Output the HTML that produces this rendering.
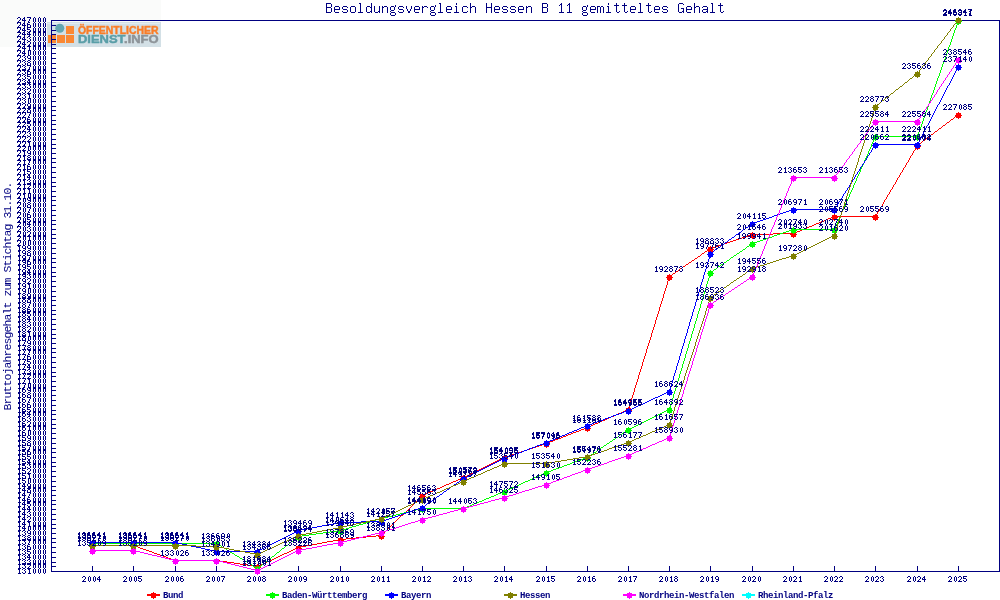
<!DOCTYPE html><html><head><meta charset="utf-8"><style>html,body{margin:0;padding:0;background:#fff;width:1000px;height:600px;overflow:hidden}svg{display:block;will-change:transform}</style></head><body><svg width="1000" height="600" viewBox="0 0 1000 600" shape-rendering="crispEdges">
<defs><path id="g0" d="M2 0h1v1h-1zM1 1h1v1h-1zM3 1h1v1h-1zM1 2h1v1h-1zM3 2h1v1h-1zM1 3h1v1h-1zM3 3h1v1h-1zM1 4h1v1h-1zM3 4h1v1h-1zM2 5h1v1h-1z"/><path id="g1" d="M2 0h1v1h-1zM1 1h2v1h-2zM2 2h1v1h-1zM2 3h1v1h-1zM2 4h1v1h-1zM1 5h3v1h-3z"/><path id="g2" d="M1 0h2v1h-2zM0 1h1v1h-1zM3 1h1v1h-1zM3 2h1v1h-1zM2 3h1v1h-1zM1 4h1v1h-1zM0 5h4v1h-4z"/><path id="g3" d="M1 0h2v1h-2zM0 1h1v1h-1zM3 1h1v1h-1zM2 2h1v1h-1zM3 3h1v1h-1zM0 4h1v1h-1zM3 4h1v1h-1zM1 5h2v1h-2z"/><path id="g4" d="M2 0h1v1h-1zM1 1h2v1h-2zM0 2h1v1h-1zM2 2h1v1h-1zM0 3h4v1h-4zM2 4h1v1h-1zM2 5h1v1h-1z"/><path id="g5" d="M0 0h4v1h-4zM0 1h1v1h-1zM0 2h3v1h-3zM3 3h1v1h-1zM0 4h1v1h-1zM3 4h1v1h-1zM1 5h2v1h-2z"/><path id="g6" d="M1 0h2v1h-2zM0 1h1v1h-1zM0 2h3v1h-3zM0 3h1v1h-1zM3 3h1v1h-1zM0 4h1v1h-1zM3 4h1v1h-1zM1 5h2v1h-2z"/><path id="g7" d="M0 0h4v1h-4zM3 1h1v1h-1zM2 2h1v1h-1zM2 3h1v1h-1zM1 4h1v1h-1zM1 5h1v1h-1z"/><path id="g8" d="M1 0h2v1h-2zM0 1h1v1h-1zM3 1h1v1h-1zM1 2h2v1h-2zM0 3h1v1h-1zM3 3h1v1h-1zM0 4h1v1h-1zM3 4h1v1h-1zM1 5h2v1h-2z"/><path id="g9" d="M1 0h2v1h-2zM0 1h1v1h-1zM3 1h1v1h-1zM0 2h1v1h-1zM3 2h1v1h-1zM1 3h3v1h-3zM3 4h1v1h-1zM1 5h2v1h-2z"/><path id="tB" d="M1 0h5v1h-5zM1 1h1v1h-1zM6 1h1v1h-1zM1 2h1v1h-1zM6 2h1v1h-1zM1 3h1v1h-1zM6 3h1v1h-1zM1 4h5v1h-5zM1 5h1v1h-1zM6 5h1v1h-1zM1 6h1v1h-1zM6 6h1v1h-1zM1 7h1v1h-1zM6 7h1v1h-1zM1 8h1v1h-1zM6 8h1v1h-1zM1 9h5v1h-5z"/><path id="te" d="M2 3h4v1h-4zM1 4h1v1h-1zM6 4h1v1h-1zM1 5h1v1h-1zM6 5h1v1h-1zM1 6h6v1h-6zM1 7h1v1h-1zM1 8h1v1h-1zM2 9h4v1h-4z"/><path id="ts" d="M2 3h4v1h-4zM1 4h1v1h-1zM6 4h1v1h-1zM1 5h1v1h-1zM2 6h4v1h-4zM6 7h1v1h-1zM1 8h1v1h-1zM6 8h1v1h-1zM2 9h4v1h-4z"/><path id="to" d="M2 3h4v1h-4zM1 4h1v1h-1zM6 4h1v1h-1zM1 5h1v1h-1zM6 5h1v1h-1zM1 6h1v1h-1zM6 6h1v1h-1zM1 7h1v1h-1zM6 7h1v1h-1zM1 8h1v1h-1zM6 8h1v1h-1zM2 9h4v1h-4z"/><path id="tl" d="M2 0h2v1h-2zM3 1h1v1h-1zM3 2h1v1h-1zM3 3h1v1h-1zM3 4h1v1h-1zM3 5h1v1h-1zM3 6h1v1h-1zM3 7h1v1h-1zM3 8h1v1h-1zM1 9h5v1h-5z"/><path id="td" d="M6 0h1v1h-1zM6 1h1v1h-1zM6 2h1v1h-1zM2 3h3v1h-3zM6 3h1v1h-1zM1 4h1v1h-1zM5 4h2v1h-2zM1 5h1v1h-1zM6 5h1v1h-1zM1 6h1v1h-1zM6 6h1v1h-1zM1 7h1v1h-1zM6 7h1v1h-1zM1 8h1v1h-1zM5 8h2v1h-2zM2 9h3v1h-3zM6 9h1v1h-1z"/><path id="tu" d="M1 3h1v1h-1zM6 3h1v1h-1zM1 4h1v1h-1zM6 4h1v1h-1zM1 5h1v1h-1zM6 5h1v1h-1zM1 6h1v1h-1zM6 6h1v1h-1zM1 7h1v1h-1zM6 7h1v1h-1zM1 8h1v1h-1zM5 8h2v1h-2zM2 9h3v1h-3zM6 9h1v1h-1z"/><path id="tn" d="M1 3h1v1h-1zM3 3h3v1h-3zM1 4h2v1h-2zM6 4h1v1h-1zM1 5h1v1h-1zM6 5h1v1h-1zM1 6h1v1h-1zM6 6h1v1h-1zM1 7h1v1h-1zM6 7h1v1h-1zM1 8h1v1h-1zM6 8h1v1h-1zM1 9h1v1h-1zM6 9h1v1h-1z"/><path id="tg" d="M6 2h1v1h-1zM2 3h3v1h-3zM6 3h1v1h-1zM1 4h1v1h-1zM5 4h1v1h-1zM1 5h1v1h-1zM5 5h1v1h-1zM1 6h1v1h-1zM5 6h1v1h-1zM2 7h3v1h-3zM1 8h1v1h-1zM2 9h4v1h-4zM1 10h1v1h-1zM6 10h1v1h-1zM1 11h1v1h-1zM6 11h1v1h-1zM2 12h4v1h-4z"/><path id="tv" d="M1 3h1v1h-1zM6 3h1v1h-1zM1 4h1v1h-1zM6 4h1v1h-1zM1 5h1v1h-1zM6 5h1v1h-1zM2 6h1v1h-1zM5 6h1v1h-1zM2 7h1v1h-1zM5 7h1v1h-1zM3 8h2v1h-2zM3 9h2v1h-2z"/><path id="tr" d="M1 3h1v1h-1zM3 3h3v1h-3zM1 4h2v1h-2zM6 4h1v1h-1zM1 5h1v1h-1zM1 6h1v1h-1zM1 7h1v1h-1zM1 8h1v1h-1zM1 9h1v1h-1z"/><path id="ti" d="M3 0h1v1h-1zM3 1h1v1h-1zM2 3h2v1h-2zM3 4h1v1h-1zM3 5h1v1h-1zM3 6h1v1h-1zM3 7h1v1h-1zM3 8h1v1h-1zM1 9h5v1h-5z"/><path id="tc" d="M2 3h4v1h-4zM1 4h1v1h-1zM6 4h1v1h-1zM1 5h1v1h-1zM1 6h1v1h-1zM1 7h1v1h-1zM1 8h1v1h-1zM6 8h1v1h-1zM2 9h4v1h-4z"/><path id="th" d="M1 0h1v1h-1zM1 1h1v1h-1zM1 2h1v1h-1zM1 3h1v1h-1zM3 3h3v1h-3zM1 4h2v1h-2zM6 4h1v1h-1zM1 5h1v1h-1zM6 5h1v1h-1zM1 6h1v1h-1zM6 6h1v1h-1zM1 7h1v1h-1zM6 7h1v1h-1zM1 8h1v1h-1zM6 8h1v1h-1zM1 9h1v1h-1zM6 9h1v1h-1z"/><path id="tH" d="M1 0h1v1h-1zM6 0h1v1h-1zM1 1h1v1h-1zM6 1h1v1h-1zM1 2h1v1h-1zM6 2h1v1h-1zM1 3h1v1h-1zM6 3h1v1h-1zM1 4h6v1h-6zM1 5h1v1h-1zM6 5h1v1h-1zM1 6h1v1h-1zM6 6h1v1h-1zM1 7h1v1h-1zM6 7h1v1h-1zM1 8h1v1h-1zM6 8h1v1h-1zM1 9h1v1h-1zM6 9h1v1h-1z"/><path id="t1" d="M4 0h1v1h-1zM3 1h2v1h-2zM2 2h1v1h-1zM4 2h1v1h-1zM4 3h1v1h-1zM4 4h1v1h-1zM4 5h1v1h-1zM4 6h1v1h-1zM4 7h1v1h-1zM4 8h1v1h-1zM2 9h5v1h-5z"/><path id="tm" d="M0 3h3v1h-3zM4 3h2v1h-2zM0 4h1v1h-1zM3 4h1v1h-1zM6 4h1v1h-1zM0 5h1v1h-1zM3 5h1v1h-1zM6 5h1v1h-1zM0 6h1v1h-1zM3 6h1v1h-1zM6 6h1v1h-1zM0 7h1v1h-1zM3 7h1v1h-1zM6 7h1v1h-1zM0 8h1v1h-1zM3 8h1v1h-1zM6 8h1v1h-1zM0 9h1v1h-1zM3 9h1v1h-1zM6 9h1v1h-1z"/><path id="tt" d="M3 0h1v1h-1zM3 1h1v1h-1zM1 2h5v1h-5zM3 3h1v1h-1zM3 4h1v1h-1zM3 5h1v1h-1zM3 6h1v1h-1zM3 7h1v1h-1zM3 8h1v1h-1zM6 8h1v1h-1zM4 9h2v1h-2z"/><path id="tG" d="M2 0h4v1h-4zM1 1h1v1h-1zM6 1h1v1h-1zM1 2h1v1h-1zM1 3h1v1h-1zM1 4h1v1h-1zM1 5h1v1h-1zM4 5h3v1h-3zM1 6h1v1h-1zM6 6h1v1h-1zM1 7h1v1h-1zM6 7h1v1h-1zM1 8h1v1h-1zM5 8h2v1h-2zM2 9h3v1h-3zM6 9h1v1h-1z"/><path id="ta" d="M2 3h4v1h-4zM1 4h1v1h-1zM6 4h1v1h-1zM6 5h1v1h-1zM2 6h5v1h-5zM1 7h1v1h-1zM6 7h1v1h-1zM1 8h1v1h-1zM5 8h2v1h-2zM2 9h3v1h-3zM6 9h1v1h-1z"/></defs>
<rect x="0" y="0" width="1000" height="600" fill="#ffffff"/>
<rect x="0" y="0" width="161" height="47" fill="#fafbfa"/>
<g id="logo">
<rect x="46.5" y="22" width="114.5" height="25" fill="#d3e0e6"/>
<rect x="47" y="23" width="113" height="1" fill="#e2ecef"/>
<rect x="48" y="35" width="8" height="8" fill="#fa8834"/>
<rect x="57" y="35" width="8" height="8" fill="#fa8834"/>
<rect x="66" y="35" width="8" height="8" fill="#fa8834"/>
<rect x="66" y="26" width="8" height="8" fill="#fa8834"/>
<circle cx="59.8" cy="28.2" r="4.5" fill="#62a6b1" shape-rendering="auto"/>
<text x="78" y="33.6" font-family="Liberation Sans" font-weight="bold" font-size="10.6" fill="#fa7d27" stroke="#fa7d27" stroke-width="0.45" textLength="80.6" lengthAdjust="spacingAndGlyphs" shape-rendering="auto">ÖFFENTLICHER</text>
<text x="78" y="42.6" font-family="Liberation Sans" font-weight="bold" font-size="10.6" textLength="80.6" lengthAdjust="spacingAndGlyphs"><tspan fill="#5a9ea8" stroke="#5a9ea8" stroke-width="0.45">DIENST</tspan><tspan fill="#8d9398" stroke="#8d9398" stroke-width="0.45">.INFO</tspan></text>
</g>
<g fill="#000080"><use href="#tB" xlink:href="#tB" x="325" y="3"/><use href="#te" xlink:href="#te" x="333" y="3"/><use href="#ts" xlink:href="#ts" x="341" y="3"/><use href="#to" xlink:href="#to" x="349" y="3"/><use href="#tl" xlink:href="#tl" x="357" y="3"/><use href="#td" xlink:href="#td" x="365" y="3"/><use href="#tu" xlink:href="#tu" x="373" y="3"/><use href="#tn" xlink:href="#tn" x="381" y="3"/><use href="#tg" xlink:href="#tg" x="389" y="3"/><use href="#ts" xlink:href="#ts" x="397" y="3"/><use href="#tv" xlink:href="#tv" x="405" y="3"/><use href="#te" xlink:href="#te" x="413" y="3"/><use href="#tr" xlink:href="#tr" x="421" y="3"/><use href="#tg" xlink:href="#tg" x="429" y="3"/><use href="#tl" xlink:href="#tl" x="437" y="3"/><use href="#te" xlink:href="#te" x="445" y="3"/><use href="#ti" xlink:href="#ti" x="453" y="3"/><use href="#tc" xlink:href="#tc" x="461" y="3"/><use href="#th" xlink:href="#th" x="469" y="3"/><use href="#tH" xlink:href="#tH" x="485" y="3"/><use href="#te" xlink:href="#te" x="493" y="3"/><use href="#ts" xlink:href="#ts" x="501" y="3"/><use href="#ts" xlink:href="#ts" x="509" y="3"/><use href="#te" xlink:href="#te" x="517" y="3"/><use href="#tn" xlink:href="#tn" x="525" y="3"/><use href="#tB" xlink:href="#tB" x="541" y="3"/><use href="#t1" xlink:href="#t1" x="557" y="3"/><use href="#t1" xlink:href="#t1" x="565" y="3"/><use href="#tg" xlink:href="#tg" x="581" y="3"/><use href="#te" xlink:href="#te" x="589" y="3"/><use href="#tm" xlink:href="#tm" x="597" y="3"/><use href="#ti" xlink:href="#ti" x="605" y="3"/><use href="#tt" xlink:href="#tt" x="613" y="3"/><use href="#tt" xlink:href="#tt" x="621" y="3"/><use href="#te" xlink:href="#te" x="629" y="3"/><use href="#tl" xlink:href="#tl" x="637" y="3"/><use href="#tt" xlink:href="#tt" x="645" y="3"/><use href="#te" xlink:href="#te" x="653" y="3"/><use href="#ts" xlink:href="#ts" x="661" y="3"/><use href="#tG" xlink:href="#tG" x="677" y="3"/><use href="#te" xlink:href="#te" x="685" y="3"/><use href="#th" xlink:href="#th" x="693" y="3"/><use href="#ta" xlink:href="#ta" x="701" y="3"/><use href="#tl" xlink:href="#tl" x="709" y="3"/><use href="#tt" xlink:href="#tt" x="717" y="3"/></g>
<path d="M51 20h949v1h-949zM999 20h1v552h-1zM51 20h1v552h-1zM51 571h949v1h-949z" fill="#000080"/>
<path d="M52 571h4v1h-4zM52 566h4v1h-4zM52 562h4v1h-4zM52 557h4v1h-4zM52 552h4v1h-4zM52 547h4v1h-4zM52 542h4v1h-4zM52 538h4v1h-4zM52 533h4v1h-4zM52 528h4v1h-4zM52 524h4v1h-4zM52 519h4v1h-4zM52 514h4v1h-4zM52 509h4v1h-4zM52 504h4v1h-4zM52 500h4v1h-4zM52 495h4v1h-4zM52 490h4v1h-4zM52 486h4v1h-4zM52 481h4v1h-4zM52 476h4v1h-4zM52 471h4v1h-4zM52 466h4v1h-4zM52 462h4v1h-4zM52 457h4v1h-4zM52 452h4v1h-4zM52 448h4v1h-4zM52 443h4v1h-4zM52 438h4v1h-4zM52 433h4v1h-4zM52 428h4v1h-4zM52 424h4v1h-4zM52 419h4v1h-4zM52 414h4v1h-4zM52 410h4v1h-4zM52 405h4v1h-4zM52 400h4v1h-4zM52 395h4v1h-4zM52 390h4v1h-4zM52 386h4v1h-4zM52 381h4v1h-4zM52 376h4v1h-4zM52 372h4v1h-4zM52 367h4v1h-4zM52 362h4v1h-4zM52 357h4v1h-4zM52 352h4v1h-4zM52 348h4v1h-4zM52 343h4v1h-4zM52 338h4v1h-4zM52 334h4v1h-4zM52 329h4v1h-4zM52 324h4v1h-4zM52 319h4v1h-4zM52 314h4v1h-4zM52 310h4v1h-4zM52 305h4v1h-4zM52 300h4v1h-4zM52 296h4v1h-4zM52 291h4v1h-4zM52 286h4v1h-4zM52 281h4v1h-4zM52 276h4v1h-4zM52 272h4v1h-4zM52 267h4v1h-4zM52 262h4v1h-4zM52 258h4v1h-4zM52 253h4v1h-4zM52 248h4v1h-4zM52 243h4v1h-4zM52 238h4v1h-4zM52 234h4v1h-4zM52 229h4v1h-4zM52 224h4v1h-4zM52 220h4v1h-4zM52 215h4v1h-4zM52 210h4v1h-4zM52 205h4v1h-4zM52 200h4v1h-4zM52 196h4v1h-4zM52 191h4v1h-4zM52 186h4v1h-4zM52 182h4v1h-4zM52 177h4v1h-4zM52 172h4v1h-4zM52 167h4v1h-4zM52 162h4v1h-4zM52 158h4v1h-4zM52 153h4v1h-4zM52 148h4v1h-4zM52 144h4v1h-4zM52 139h4v1h-4zM52 134h4v1h-4zM52 129h4v1h-4zM52 124h4v1h-4zM52 120h4v1h-4zM52 115h4v1h-4zM52 110h4v1h-4zM52 106h4v1h-4zM52 101h4v1h-4zM52 96h4v1h-4zM52 91h4v1h-4zM52 86h4v1h-4zM52 82h4v1h-4zM52 77h4v1h-4zM52 72h4v1h-4zM52 68h4v1h-4zM52 63h4v1h-4zM52 58h4v1h-4zM52 53h4v1h-4zM52 48h4v1h-4zM52 44h4v1h-4zM52 39h4v1h-4zM52 34h4v1h-4zM52 30h4v1h-4zM52 25h4v1h-4zM52 20h4v1h-4z" fill="#000080"/>
<g fill="#000080"><use href="#g1" xlink:href="#g1" x="17" y="568"/><use href="#g3" xlink:href="#g3" x="22" y="568"/><use href="#g1" xlink:href="#g1" x="27" y="568"/><use href="#g0" xlink:href="#g0" x="32" y="568"/><use href="#g0" xlink:href="#g0" x="37" y="568"/><use href="#g0" xlink:href="#g0" x="42" y="568"/><use href="#g1" xlink:href="#g1" x="17" y="563"/><use href="#g3" xlink:href="#g3" x="22" y="563"/><use href="#g2" xlink:href="#g2" x="27" y="563"/><use href="#g0" xlink:href="#g0" x="32" y="563"/><use href="#g0" xlink:href="#g0" x="37" y="563"/><use href="#g0" xlink:href="#g0" x="42" y="563"/><use href="#g1" xlink:href="#g1" x="17" y="559"/><use href="#g3" xlink:href="#g3" x="22" y="559"/><use href="#g3" xlink:href="#g3" x="27" y="559"/><use href="#g0" xlink:href="#g0" x="32" y="559"/><use href="#g0" xlink:href="#g0" x="37" y="559"/><use href="#g0" xlink:href="#g0" x="42" y="559"/><use href="#g1" xlink:href="#g1" x="17" y="554"/><use href="#g3" xlink:href="#g3" x="22" y="554"/><use href="#g4" xlink:href="#g4" x="27" y="554"/><use href="#g0" xlink:href="#g0" x="32" y="554"/><use href="#g0" xlink:href="#g0" x="37" y="554"/><use href="#g0" xlink:href="#g0" x="42" y="554"/><use href="#g1" xlink:href="#g1" x="17" y="549"/><use href="#g3" xlink:href="#g3" x="22" y="549"/><use href="#g5" xlink:href="#g5" x="27" y="549"/><use href="#g0" xlink:href="#g0" x="32" y="549"/><use href="#g0" xlink:href="#g0" x="37" y="549"/><use href="#g0" xlink:href="#g0" x="42" y="549"/><use href="#g1" xlink:href="#g1" x="17" y="544"/><use href="#g3" xlink:href="#g3" x="22" y="544"/><use href="#g6" xlink:href="#g6" x="27" y="544"/><use href="#g0" xlink:href="#g0" x="32" y="544"/><use href="#g0" xlink:href="#g0" x="37" y="544"/><use href="#g0" xlink:href="#g0" x="42" y="544"/><use href="#g1" xlink:href="#g1" x="17" y="539"/><use href="#g3" xlink:href="#g3" x="22" y="539"/><use href="#g7" xlink:href="#g7" x="27" y="539"/><use href="#g0" xlink:href="#g0" x="32" y="539"/><use href="#g0" xlink:href="#g0" x="37" y="539"/><use href="#g0" xlink:href="#g0" x="42" y="539"/><use href="#g1" xlink:href="#g1" x="17" y="535"/><use href="#g3" xlink:href="#g3" x="22" y="535"/><use href="#g8" xlink:href="#g8" x="27" y="535"/><use href="#g0" xlink:href="#g0" x="32" y="535"/><use href="#g0" xlink:href="#g0" x="37" y="535"/><use href="#g0" xlink:href="#g0" x="42" y="535"/><use href="#g1" xlink:href="#g1" x="17" y="530"/><use href="#g3" xlink:href="#g3" x="22" y="530"/><use href="#g9" xlink:href="#g9" x="27" y="530"/><use href="#g0" xlink:href="#g0" x="32" y="530"/><use href="#g0" xlink:href="#g0" x="37" y="530"/><use href="#g0" xlink:href="#g0" x="42" y="530"/><use href="#g1" xlink:href="#g1" x="17" y="525"/><use href="#g4" xlink:href="#g4" x="22" y="525"/><use href="#g0" xlink:href="#g0" x="27" y="525"/><use href="#g0" xlink:href="#g0" x="32" y="525"/><use href="#g0" xlink:href="#g0" x="37" y="525"/><use href="#g0" xlink:href="#g0" x="42" y="525"/><use href="#g1" xlink:href="#g1" x="17" y="521"/><use href="#g4" xlink:href="#g4" x="22" y="521"/><use href="#g1" xlink:href="#g1" x="27" y="521"/><use href="#g0" xlink:href="#g0" x="32" y="521"/><use href="#g0" xlink:href="#g0" x="37" y="521"/><use href="#g0" xlink:href="#g0" x="42" y="521"/><use href="#g1" xlink:href="#g1" x="17" y="516"/><use href="#g4" xlink:href="#g4" x="22" y="516"/><use href="#g2" xlink:href="#g2" x="27" y="516"/><use href="#g0" xlink:href="#g0" x="32" y="516"/><use href="#g0" xlink:href="#g0" x="37" y="516"/><use href="#g0" xlink:href="#g0" x="42" y="516"/><use href="#g1" xlink:href="#g1" x="17" y="511"/><use href="#g4" xlink:href="#g4" x="22" y="511"/><use href="#g3" xlink:href="#g3" x="27" y="511"/><use href="#g0" xlink:href="#g0" x="32" y="511"/><use href="#g0" xlink:href="#g0" x="37" y="511"/><use href="#g0" xlink:href="#g0" x="42" y="511"/><use href="#g1" xlink:href="#g1" x="17" y="506"/><use href="#g4" xlink:href="#g4" x="22" y="506"/><use href="#g4" xlink:href="#g4" x="27" y="506"/><use href="#g0" xlink:href="#g0" x="32" y="506"/><use href="#g0" xlink:href="#g0" x="37" y="506"/><use href="#g0" xlink:href="#g0" x="42" y="506"/><use href="#g1" xlink:href="#g1" x="17" y="501"/><use href="#g4" xlink:href="#g4" x="22" y="501"/><use href="#g5" xlink:href="#g5" x="27" y="501"/><use href="#g0" xlink:href="#g0" x="32" y="501"/><use href="#g0" xlink:href="#g0" x="37" y="501"/><use href="#g0" xlink:href="#g0" x="42" y="501"/><use href="#g1" xlink:href="#g1" x="17" y="497"/><use href="#g4" xlink:href="#g4" x="22" y="497"/><use href="#g6" xlink:href="#g6" x="27" y="497"/><use href="#g0" xlink:href="#g0" x="32" y="497"/><use href="#g0" xlink:href="#g0" x="37" y="497"/><use href="#g0" xlink:href="#g0" x="42" y="497"/><use href="#g1" xlink:href="#g1" x="17" y="492"/><use href="#g4" xlink:href="#g4" x="22" y="492"/><use href="#g7" xlink:href="#g7" x="27" y="492"/><use href="#g0" xlink:href="#g0" x="32" y="492"/><use href="#g0" xlink:href="#g0" x="37" y="492"/><use href="#g0" xlink:href="#g0" x="42" y="492"/><use href="#g1" xlink:href="#g1" x="17" y="487"/><use href="#g4" xlink:href="#g4" x="22" y="487"/><use href="#g8" xlink:href="#g8" x="27" y="487"/><use href="#g0" xlink:href="#g0" x="32" y="487"/><use href="#g0" xlink:href="#g0" x="37" y="487"/><use href="#g0" xlink:href="#g0" x="42" y="487"/><use href="#g1" xlink:href="#g1" x="17" y="483"/><use href="#g4" xlink:href="#g4" x="22" y="483"/><use href="#g9" xlink:href="#g9" x="27" y="483"/><use href="#g0" xlink:href="#g0" x="32" y="483"/><use href="#g0" xlink:href="#g0" x="37" y="483"/><use href="#g0" xlink:href="#g0" x="42" y="483"/><use href="#g1" xlink:href="#g1" x="17" y="478"/><use href="#g5" xlink:href="#g5" x="22" y="478"/><use href="#g0" xlink:href="#g0" x="27" y="478"/><use href="#g0" xlink:href="#g0" x="32" y="478"/><use href="#g0" xlink:href="#g0" x="37" y="478"/><use href="#g0" xlink:href="#g0" x="42" y="478"/><use href="#g1" xlink:href="#g1" x="17" y="473"/><use href="#g5" xlink:href="#g5" x="22" y="473"/><use href="#g1" xlink:href="#g1" x="27" y="473"/><use href="#g0" xlink:href="#g0" x="32" y="473"/><use href="#g0" xlink:href="#g0" x="37" y="473"/><use href="#g0" xlink:href="#g0" x="42" y="473"/><use href="#g1" xlink:href="#g1" x="17" y="468"/><use href="#g5" xlink:href="#g5" x="22" y="468"/><use href="#g2" xlink:href="#g2" x="27" y="468"/><use href="#g0" xlink:href="#g0" x="32" y="468"/><use href="#g0" xlink:href="#g0" x="37" y="468"/><use href="#g0" xlink:href="#g0" x="42" y="468"/><use href="#g1" xlink:href="#g1" x="17" y="463"/><use href="#g5" xlink:href="#g5" x="22" y="463"/><use href="#g3" xlink:href="#g3" x="27" y="463"/><use href="#g0" xlink:href="#g0" x="32" y="463"/><use href="#g0" xlink:href="#g0" x="37" y="463"/><use href="#g0" xlink:href="#g0" x="42" y="463"/><use href="#g1" xlink:href="#g1" x="17" y="459"/><use href="#g5" xlink:href="#g5" x="22" y="459"/><use href="#g4" xlink:href="#g4" x="27" y="459"/><use href="#g0" xlink:href="#g0" x="32" y="459"/><use href="#g0" xlink:href="#g0" x="37" y="459"/><use href="#g0" xlink:href="#g0" x="42" y="459"/><use href="#g1" xlink:href="#g1" x="17" y="454"/><use href="#g5" xlink:href="#g5" x="22" y="454"/><use href="#g5" xlink:href="#g5" x="27" y="454"/><use href="#g0" xlink:href="#g0" x="32" y="454"/><use href="#g0" xlink:href="#g0" x="37" y="454"/><use href="#g0" xlink:href="#g0" x="42" y="454"/><use href="#g1" xlink:href="#g1" x="17" y="449"/><use href="#g5" xlink:href="#g5" x="22" y="449"/><use href="#g6" xlink:href="#g6" x="27" y="449"/><use href="#g0" xlink:href="#g0" x="32" y="449"/><use href="#g0" xlink:href="#g0" x="37" y="449"/><use href="#g0" xlink:href="#g0" x="42" y="449"/><use href="#g1" xlink:href="#g1" x="17" y="445"/><use href="#g5" xlink:href="#g5" x="22" y="445"/><use href="#g7" xlink:href="#g7" x="27" y="445"/><use href="#g0" xlink:href="#g0" x="32" y="445"/><use href="#g0" xlink:href="#g0" x="37" y="445"/><use href="#g0" xlink:href="#g0" x="42" y="445"/><use href="#g1" xlink:href="#g1" x="17" y="440"/><use href="#g5" xlink:href="#g5" x="22" y="440"/><use href="#g8" xlink:href="#g8" x="27" y="440"/><use href="#g0" xlink:href="#g0" x="32" y="440"/><use href="#g0" xlink:href="#g0" x="37" y="440"/><use href="#g0" xlink:href="#g0" x="42" y="440"/><use href="#g1" xlink:href="#g1" x="17" y="435"/><use href="#g5" xlink:href="#g5" x="22" y="435"/><use href="#g9" xlink:href="#g9" x="27" y="435"/><use href="#g0" xlink:href="#g0" x="32" y="435"/><use href="#g0" xlink:href="#g0" x="37" y="435"/><use href="#g0" xlink:href="#g0" x="42" y="435"/><use href="#g1" xlink:href="#g1" x="17" y="430"/><use href="#g6" xlink:href="#g6" x="22" y="430"/><use href="#g0" xlink:href="#g0" x="27" y="430"/><use href="#g0" xlink:href="#g0" x="32" y="430"/><use href="#g0" xlink:href="#g0" x="37" y="430"/><use href="#g0" xlink:href="#g0" x="42" y="430"/><use href="#g1" xlink:href="#g1" x="17" y="425"/><use href="#g6" xlink:href="#g6" x="22" y="425"/><use href="#g1" xlink:href="#g1" x="27" y="425"/><use href="#g0" xlink:href="#g0" x="32" y="425"/><use href="#g0" xlink:href="#g0" x="37" y="425"/><use href="#g0" xlink:href="#g0" x="42" y="425"/><use href="#g1" xlink:href="#g1" x="17" y="421"/><use href="#g6" xlink:href="#g6" x="22" y="421"/><use href="#g2" xlink:href="#g2" x="27" y="421"/><use href="#g0" xlink:href="#g0" x="32" y="421"/><use href="#g0" xlink:href="#g0" x="37" y="421"/><use href="#g0" xlink:href="#g0" x="42" y="421"/><use href="#g1" xlink:href="#g1" x="17" y="416"/><use href="#g6" xlink:href="#g6" x="22" y="416"/><use href="#g3" xlink:href="#g3" x="27" y="416"/><use href="#g0" xlink:href="#g0" x="32" y="416"/><use href="#g0" xlink:href="#g0" x="37" y="416"/><use href="#g0" xlink:href="#g0" x="42" y="416"/><use href="#g1" xlink:href="#g1" x="17" y="411"/><use href="#g6" xlink:href="#g6" x="22" y="411"/><use href="#g4" xlink:href="#g4" x="27" y="411"/><use href="#g0" xlink:href="#g0" x="32" y="411"/><use href="#g0" xlink:href="#g0" x="37" y="411"/><use href="#g0" xlink:href="#g0" x="42" y="411"/><use href="#g1" xlink:href="#g1" x="17" y="407"/><use href="#g6" xlink:href="#g6" x="22" y="407"/><use href="#g5" xlink:href="#g5" x="27" y="407"/><use href="#g0" xlink:href="#g0" x="32" y="407"/><use href="#g0" xlink:href="#g0" x="37" y="407"/><use href="#g0" xlink:href="#g0" x="42" y="407"/><use href="#g1" xlink:href="#g1" x="17" y="402"/><use href="#g6" xlink:href="#g6" x="22" y="402"/><use href="#g6" xlink:href="#g6" x="27" y="402"/><use href="#g0" xlink:href="#g0" x="32" y="402"/><use href="#g0" xlink:href="#g0" x="37" y="402"/><use href="#g0" xlink:href="#g0" x="42" y="402"/><use href="#g1" xlink:href="#g1" x="17" y="397"/><use href="#g6" xlink:href="#g6" x="22" y="397"/><use href="#g7" xlink:href="#g7" x="27" y="397"/><use href="#g0" xlink:href="#g0" x="32" y="397"/><use href="#g0" xlink:href="#g0" x="37" y="397"/><use href="#g0" xlink:href="#g0" x="42" y="397"/><use href="#g1" xlink:href="#g1" x="17" y="392"/><use href="#g6" xlink:href="#g6" x="22" y="392"/><use href="#g8" xlink:href="#g8" x="27" y="392"/><use href="#g0" xlink:href="#g0" x="32" y="392"/><use href="#g0" xlink:href="#g0" x="37" y="392"/><use href="#g0" xlink:href="#g0" x="42" y="392"/><use href="#g1" xlink:href="#g1" x="17" y="387"/><use href="#g6" xlink:href="#g6" x="22" y="387"/><use href="#g9" xlink:href="#g9" x="27" y="387"/><use href="#g0" xlink:href="#g0" x="32" y="387"/><use href="#g0" xlink:href="#g0" x="37" y="387"/><use href="#g0" xlink:href="#g0" x="42" y="387"/><use href="#g1" xlink:href="#g1" x="17" y="383"/><use href="#g7" xlink:href="#g7" x="22" y="383"/><use href="#g0" xlink:href="#g0" x="27" y="383"/><use href="#g0" xlink:href="#g0" x="32" y="383"/><use href="#g0" xlink:href="#g0" x="37" y="383"/><use href="#g0" xlink:href="#g0" x="42" y="383"/><use href="#g1" xlink:href="#g1" x="17" y="378"/><use href="#g7" xlink:href="#g7" x="22" y="378"/><use href="#g1" xlink:href="#g1" x="27" y="378"/><use href="#g0" xlink:href="#g0" x="32" y="378"/><use href="#g0" xlink:href="#g0" x="37" y="378"/><use href="#g0" xlink:href="#g0" x="42" y="378"/><use href="#g1" xlink:href="#g1" x="17" y="373"/><use href="#g7" xlink:href="#g7" x="22" y="373"/><use href="#g2" xlink:href="#g2" x="27" y="373"/><use href="#g0" xlink:href="#g0" x="32" y="373"/><use href="#g0" xlink:href="#g0" x="37" y="373"/><use href="#g0" xlink:href="#g0" x="42" y="373"/><use href="#g1" xlink:href="#g1" x="17" y="369"/><use href="#g7" xlink:href="#g7" x="22" y="369"/><use href="#g3" xlink:href="#g3" x="27" y="369"/><use href="#g0" xlink:href="#g0" x="32" y="369"/><use href="#g0" xlink:href="#g0" x="37" y="369"/><use href="#g0" xlink:href="#g0" x="42" y="369"/><use href="#g1" xlink:href="#g1" x="17" y="364"/><use href="#g7" xlink:href="#g7" x="22" y="364"/><use href="#g4" xlink:href="#g4" x="27" y="364"/><use href="#g0" xlink:href="#g0" x="32" y="364"/><use href="#g0" xlink:href="#g0" x="37" y="364"/><use href="#g0" xlink:href="#g0" x="42" y="364"/><use href="#g1" xlink:href="#g1" x="17" y="359"/><use href="#g7" xlink:href="#g7" x="22" y="359"/><use href="#g5" xlink:href="#g5" x="27" y="359"/><use href="#g0" xlink:href="#g0" x="32" y="359"/><use href="#g0" xlink:href="#g0" x="37" y="359"/><use href="#g0" xlink:href="#g0" x="42" y="359"/><use href="#g1" xlink:href="#g1" x="17" y="354"/><use href="#g7" xlink:href="#g7" x="22" y="354"/><use href="#g6" xlink:href="#g6" x="27" y="354"/><use href="#g0" xlink:href="#g0" x="32" y="354"/><use href="#g0" xlink:href="#g0" x="37" y="354"/><use href="#g0" xlink:href="#g0" x="42" y="354"/><use href="#g1" xlink:href="#g1" x="17" y="349"/><use href="#g7" xlink:href="#g7" x="22" y="349"/><use href="#g7" xlink:href="#g7" x="27" y="349"/><use href="#g0" xlink:href="#g0" x="32" y="349"/><use href="#g0" xlink:href="#g0" x="37" y="349"/><use href="#g0" xlink:href="#g0" x="42" y="349"/><use href="#g1" xlink:href="#g1" x="17" y="345"/><use href="#g7" xlink:href="#g7" x="22" y="345"/><use href="#g8" xlink:href="#g8" x="27" y="345"/><use href="#g0" xlink:href="#g0" x="32" y="345"/><use href="#g0" xlink:href="#g0" x="37" y="345"/><use href="#g0" xlink:href="#g0" x="42" y="345"/><use href="#g1" xlink:href="#g1" x="17" y="340"/><use href="#g7" xlink:href="#g7" x="22" y="340"/><use href="#g9" xlink:href="#g9" x="27" y="340"/><use href="#g0" xlink:href="#g0" x="32" y="340"/><use href="#g0" xlink:href="#g0" x="37" y="340"/><use href="#g0" xlink:href="#g0" x="42" y="340"/><use href="#g1" xlink:href="#g1" x="17" y="335"/><use href="#g8" xlink:href="#g8" x="22" y="335"/><use href="#g0" xlink:href="#g0" x="27" y="335"/><use href="#g0" xlink:href="#g0" x="32" y="335"/><use href="#g0" xlink:href="#g0" x="37" y="335"/><use href="#g0" xlink:href="#g0" x="42" y="335"/><use href="#g1" xlink:href="#g1" x="17" y="331"/><use href="#g8" xlink:href="#g8" x="22" y="331"/><use href="#g1" xlink:href="#g1" x="27" y="331"/><use href="#g0" xlink:href="#g0" x="32" y="331"/><use href="#g0" xlink:href="#g0" x="37" y="331"/><use href="#g0" xlink:href="#g0" x="42" y="331"/><use href="#g1" xlink:href="#g1" x="17" y="326"/><use href="#g8" xlink:href="#g8" x="22" y="326"/><use href="#g2" xlink:href="#g2" x="27" y="326"/><use href="#g0" xlink:href="#g0" x="32" y="326"/><use href="#g0" xlink:href="#g0" x="37" y="326"/><use href="#g0" xlink:href="#g0" x="42" y="326"/><use href="#g1" xlink:href="#g1" x="17" y="321"/><use href="#g8" xlink:href="#g8" x="22" y="321"/><use href="#g3" xlink:href="#g3" x="27" y="321"/><use href="#g0" xlink:href="#g0" x="32" y="321"/><use href="#g0" xlink:href="#g0" x="37" y="321"/><use href="#g0" xlink:href="#g0" x="42" y="321"/><use href="#g1" xlink:href="#g1" x="17" y="316"/><use href="#g8" xlink:href="#g8" x="22" y="316"/><use href="#g4" xlink:href="#g4" x="27" y="316"/><use href="#g0" xlink:href="#g0" x="32" y="316"/><use href="#g0" xlink:href="#g0" x="37" y="316"/><use href="#g0" xlink:href="#g0" x="42" y="316"/><use href="#g1" xlink:href="#g1" x="17" y="311"/><use href="#g8" xlink:href="#g8" x="22" y="311"/><use href="#g5" xlink:href="#g5" x="27" y="311"/><use href="#g0" xlink:href="#g0" x="32" y="311"/><use href="#g0" xlink:href="#g0" x="37" y="311"/><use href="#g0" xlink:href="#g0" x="42" y="311"/><use href="#g1" xlink:href="#g1" x="17" y="307"/><use href="#g8" xlink:href="#g8" x="22" y="307"/><use href="#g6" xlink:href="#g6" x="27" y="307"/><use href="#g0" xlink:href="#g0" x="32" y="307"/><use href="#g0" xlink:href="#g0" x="37" y="307"/><use href="#g0" xlink:href="#g0" x="42" y="307"/><use href="#g1" xlink:href="#g1" x="17" y="302"/><use href="#g8" xlink:href="#g8" x="22" y="302"/><use href="#g7" xlink:href="#g7" x="27" y="302"/><use href="#g0" xlink:href="#g0" x="32" y="302"/><use href="#g0" xlink:href="#g0" x="37" y="302"/><use href="#g0" xlink:href="#g0" x="42" y="302"/><use href="#g1" xlink:href="#g1" x="17" y="297"/><use href="#g8" xlink:href="#g8" x="22" y="297"/><use href="#g8" xlink:href="#g8" x="27" y="297"/><use href="#g0" xlink:href="#g0" x="32" y="297"/><use href="#g0" xlink:href="#g0" x="37" y="297"/><use href="#g0" xlink:href="#g0" x="42" y="297"/><use href="#g1" xlink:href="#g1" x="17" y="293"/><use href="#g8" xlink:href="#g8" x="22" y="293"/><use href="#g9" xlink:href="#g9" x="27" y="293"/><use href="#g0" xlink:href="#g0" x="32" y="293"/><use href="#g0" xlink:href="#g0" x="37" y="293"/><use href="#g0" xlink:href="#g0" x="42" y="293"/><use href="#g1" xlink:href="#g1" x="17" y="288"/><use href="#g9" xlink:href="#g9" x="22" y="288"/><use href="#g0" xlink:href="#g0" x="27" y="288"/><use href="#g0" xlink:href="#g0" x="32" y="288"/><use href="#g0" xlink:href="#g0" x="37" y="288"/><use href="#g0" xlink:href="#g0" x="42" y="288"/><use href="#g1" xlink:href="#g1" x="17" y="283"/><use href="#g9" xlink:href="#g9" x="22" y="283"/><use href="#g1" xlink:href="#g1" x="27" y="283"/><use href="#g0" xlink:href="#g0" x="32" y="283"/><use href="#g0" xlink:href="#g0" x="37" y="283"/><use href="#g0" xlink:href="#g0" x="42" y="283"/><use href="#g1" xlink:href="#g1" x="17" y="278"/><use href="#g9" xlink:href="#g9" x="22" y="278"/><use href="#g2" xlink:href="#g2" x="27" y="278"/><use href="#g0" xlink:href="#g0" x="32" y="278"/><use href="#g0" xlink:href="#g0" x="37" y="278"/><use href="#g0" xlink:href="#g0" x="42" y="278"/><use href="#g1" xlink:href="#g1" x="17" y="273"/><use href="#g9" xlink:href="#g9" x="22" y="273"/><use href="#g3" xlink:href="#g3" x="27" y="273"/><use href="#g0" xlink:href="#g0" x="32" y="273"/><use href="#g0" xlink:href="#g0" x="37" y="273"/><use href="#g0" xlink:href="#g0" x="42" y="273"/><use href="#g1" xlink:href="#g1" x="17" y="269"/><use href="#g9" xlink:href="#g9" x="22" y="269"/><use href="#g4" xlink:href="#g4" x="27" y="269"/><use href="#g0" xlink:href="#g0" x="32" y="269"/><use href="#g0" xlink:href="#g0" x="37" y="269"/><use href="#g0" xlink:href="#g0" x="42" y="269"/><use href="#g1" xlink:href="#g1" x="17" y="264"/><use href="#g9" xlink:href="#g9" x="22" y="264"/><use href="#g5" xlink:href="#g5" x="27" y="264"/><use href="#g0" xlink:href="#g0" x="32" y="264"/><use href="#g0" xlink:href="#g0" x="37" y="264"/><use href="#g0" xlink:href="#g0" x="42" y="264"/><use href="#g1" xlink:href="#g1" x="17" y="259"/><use href="#g9" xlink:href="#g9" x="22" y="259"/><use href="#g6" xlink:href="#g6" x="27" y="259"/><use href="#g0" xlink:href="#g0" x="32" y="259"/><use href="#g0" xlink:href="#g0" x="37" y="259"/><use href="#g0" xlink:href="#g0" x="42" y="259"/><use href="#g1" xlink:href="#g1" x="17" y="255"/><use href="#g9" xlink:href="#g9" x="22" y="255"/><use href="#g7" xlink:href="#g7" x="27" y="255"/><use href="#g0" xlink:href="#g0" x="32" y="255"/><use href="#g0" xlink:href="#g0" x="37" y="255"/><use href="#g0" xlink:href="#g0" x="42" y="255"/><use href="#g1" xlink:href="#g1" x="17" y="250"/><use href="#g9" xlink:href="#g9" x="22" y="250"/><use href="#g8" xlink:href="#g8" x="27" y="250"/><use href="#g0" xlink:href="#g0" x="32" y="250"/><use href="#g0" xlink:href="#g0" x="37" y="250"/><use href="#g0" xlink:href="#g0" x="42" y="250"/><use href="#g1" xlink:href="#g1" x="17" y="245"/><use href="#g9" xlink:href="#g9" x="22" y="245"/><use href="#g9" xlink:href="#g9" x="27" y="245"/><use href="#g0" xlink:href="#g0" x="32" y="245"/><use href="#g0" xlink:href="#g0" x="37" y="245"/><use href="#g0" xlink:href="#g0" x="42" y="245"/><use href="#g2" xlink:href="#g2" x="17" y="240"/><use href="#g0" xlink:href="#g0" x="22" y="240"/><use href="#g0" xlink:href="#g0" x="27" y="240"/><use href="#g0" xlink:href="#g0" x="32" y="240"/><use href="#g0" xlink:href="#g0" x="37" y="240"/><use href="#g0" xlink:href="#g0" x="42" y="240"/><use href="#g2" xlink:href="#g2" x="17" y="235"/><use href="#g0" xlink:href="#g0" x="22" y="235"/><use href="#g1" xlink:href="#g1" x="27" y="235"/><use href="#g0" xlink:href="#g0" x="32" y="235"/><use href="#g0" xlink:href="#g0" x="37" y="235"/><use href="#g0" xlink:href="#g0" x="42" y="235"/><use href="#g2" xlink:href="#g2" x="17" y="231"/><use href="#g0" xlink:href="#g0" x="22" y="231"/><use href="#g2" xlink:href="#g2" x="27" y="231"/><use href="#g0" xlink:href="#g0" x="32" y="231"/><use href="#g0" xlink:href="#g0" x="37" y="231"/><use href="#g0" xlink:href="#g0" x="42" y="231"/><use href="#g2" xlink:href="#g2" x="17" y="226"/><use href="#g0" xlink:href="#g0" x="22" y="226"/><use href="#g3" xlink:href="#g3" x="27" y="226"/><use href="#g0" xlink:href="#g0" x="32" y="226"/><use href="#g0" xlink:href="#g0" x="37" y="226"/><use href="#g0" xlink:href="#g0" x="42" y="226"/><use href="#g2" xlink:href="#g2" x="17" y="221"/><use href="#g0" xlink:href="#g0" x="22" y="221"/><use href="#g4" xlink:href="#g4" x="27" y="221"/><use href="#g0" xlink:href="#g0" x="32" y="221"/><use href="#g0" xlink:href="#g0" x="37" y="221"/><use href="#g0" xlink:href="#g0" x="42" y="221"/><use href="#g2" xlink:href="#g2" x="17" y="217"/><use href="#g0" xlink:href="#g0" x="22" y="217"/><use href="#g5" xlink:href="#g5" x="27" y="217"/><use href="#g0" xlink:href="#g0" x="32" y="217"/><use href="#g0" xlink:href="#g0" x="37" y="217"/><use href="#g0" xlink:href="#g0" x="42" y="217"/><use href="#g2" xlink:href="#g2" x="17" y="212"/><use href="#g0" xlink:href="#g0" x="22" y="212"/><use href="#g6" xlink:href="#g6" x="27" y="212"/><use href="#g0" xlink:href="#g0" x="32" y="212"/><use href="#g0" xlink:href="#g0" x="37" y="212"/><use href="#g0" xlink:href="#g0" x="42" y="212"/><use href="#g2" xlink:href="#g2" x="17" y="207"/><use href="#g0" xlink:href="#g0" x="22" y="207"/><use href="#g7" xlink:href="#g7" x="27" y="207"/><use href="#g0" xlink:href="#g0" x="32" y="207"/><use href="#g0" xlink:href="#g0" x="37" y="207"/><use href="#g0" xlink:href="#g0" x="42" y="207"/><use href="#g2" xlink:href="#g2" x="17" y="202"/><use href="#g0" xlink:href="#g0" x="22" y="202"/><use href="#g8" xlink:href="#g8" x="27" y="202"/><use href="#g0" xlink:href="#g0" x="32" y="202"/><use href="#g0" xlink:href="#g0" x="37" y="202"/><use href="#g0" xlink:href="#g0" x="42" y="202"/><use href="#g2" xlink:href="#g2" x="17" y="197"/><use href="#g0" xlink:href="#g0" x="22" y="197"/><use href="#g9" xlink:href="#g9" x="27" y="197"/><use href="#g0" xlink:href="#g0" x="32" y="197"/><use href="#g0" xlink:href="#g0" x="37" y="197"/><use href="#g0" xlink:href="#g0" x="42" y="197"/><use href="#g2" xlink:href="#g2" x="17" y="193"/><use href="#g1" xlink:href="#g1" x="22" y="193"/><use href="#g0" xlink:href="#g0" x="27" y="193"/><use href="#g0" xlink:href="#g0" x="32" y="193"/><use href="#g0" xlink:href="#g0" x="37" y="193"/><use href="#g0" xlink:href="#g0" x="42" y="193"/><use href="#g2" xlink:href="#g2" x="17" y="188"/><use href="#g1" xlink:href="#g1" x="22" y="188"/><use href="#g1" xlink:href="#g1" x="27" y="188"/><use href="#g0" xlink:href="#g0" x="32" y="188"/><use href="#g0" xlink:href="#g0" x="37" y="188"/><use href="#g0" xlink:href="#g0" x="42" y="188"/><use href="#g2" xlink:href="#g2" x="17" y="183"/><use href="#g1" xlink:href="#g1" x="22" y="183"/><use href="#g2" xlink:href="#g2" x="27" y="183"/><use href="#g0" xlink:href="#g0" x="32" y="183"/><use href="#g0" xlink:href="#g0" x="37" y="183"/><use href="#g0" xlink:href="#g0" x="42" y="183"/><use href="#g2" xlink:href="#g2" x="17" y="179"/><use href="#g1" xlink:href="#g1" x="22" y="179"/><use href="#g3" xlink:href="#g3" x="27" y="179"/><use href="#g0" xlink:href="#g0" x="32" y="179"/><use href="#g0" xlink:href="#g0" x="37" y="179"/><use href="#g0" xlink:href="#g0" x="42" y="179"/><use href="#g2" xlink:href="#g2" x="17" y="174"/><use href="#g1" xlink:href="#g1" x="22" y="174"/><use href="#g4" xlink:href="#g4" x="27" y="174"/><use href="#g0" xlink:href="#g0" x="32" y="174"/><use href="#g0" xlink:href="#g0" x="37" y="174"/><use href="#g0" xlink:href="#g0" x="42" y="174"/><use href="#g2" xlink:href="#g2" x="17" y="169"/><use href="#g1" xlink:href="#g1" x="22" y="169"/><use href="#g5" xlink:href="#g5" x="27" y="169"/><use href="#g0" xlink:href="#g0" x="32" y="169"/><use href="#g0" xlink:href="#g0" x="37" y="169"/><use href="#g0" xlink:href="#g0" x="42" y="169"/><use href="#g2" xlink:href="#g2" x="17" y="164"/><use href="#g1" xlink:href="#g1" x="22" y="164"/><use href="#g6" xlink:href="#g6" x="27" y="164"/><use href="#g0" xlink:href="#g0" x="32" y="164"/><use href="#g0" xlink:href="#g0" x="37" y="164"/><use href="#g0" xlink:href="#g0" x="42" y="164"/><use href="#g2" xlink:href="#g2" x="17" y="159"/><use href="#g1" xlink:href="#g1" x="22" y="159"/><use href="#g7" xlink:href="#g7" x="27" y="159"/><use href="#g0" xlink:href="#g0" x="32" y="159"/><use href="#g0" xlink:href="#g0" x="37" y="159"/><use href="#g0" xlink:href="#g0" x="42" y="159"/><use href="#g2" xlink:href="#g2" x="17" y="155"/><use href="#g1" xlink:href="#g1" x="22" y="155"/><use href="#g8" xlink:href="#g8" x="27" y="155"/><use href="#g0" xlink:href="#g0" x="32" y="155"/><use href="#g0" xlink:href="#g0" x="37" y="155"/><use href="#g0" xlink:href="#g0" x="42" y="155"/><use href="#g2" xlink:href="#g2" x="17" y="150"/><use href="#g1" xlink:href="#g1" x="22" y="150"/><use href="#g9" xlink:href="#g9" x="27" y="150"/><use href="#g0" xlink:href="#g0" x="32" y="150"/><use href="#g0" xlink:href="#g0" x="37" y="150"/><use href="#g0" xlink:href="#g0" x="42" y="150"/><use href="#g2" xlink:href="#g2" x="17" y="145"/><use href="#g2" xlink:href="#g2" x="22" y="145"/><use href="#g0" xlink:href="#g0" x="27" y="145"/><use href="#g0" xlink:href="#g0" x="32" y="145"/><use href="#g0" xlink:href="#g0" x="37" y="145"/><use href="#g0" xlink:href="#g0" x="42" y="145"/><use href="#g2" xlink:href="#g2" x="17" y="141"/><use href="#g2" xlink:href="#g2" x="22" y="141"/><use href="#g1" xlink:href="#g1" x="27" y="141"/><use href="#g0" xlink:href="#g0" x="32" y="141"/><use href="#g0" xlink:href="#g0" x="37" y="141"/><use href="#g0" xlink:href="#g0" x="42" y="141"/><use href="#g2" xlink:href="#g2" x="17" y="136"/><use href="#g2" xlink:href="#g2" x="22" y="136"/><use href="#g2" xlink:href="#g2" x="27" y="136"/><use href="#g0" xlink:href="#g0" x="32" y="136"/><use href="#g0" xlink:href="#g0" x="37" y="136"/><use href="#g0" xlink:href="#g0" x="42" y="136"/><use href="#g2" xlink:href="#g2" x="17" y="131"/><use href="#g2" xlink:href="#g2" x="22" y="131"/><use href="#g3" xlink:href="#g3" x="27" y="131"/><use href="#g0" xlink:href="#g0" x="32" y="131"/><use href="#g0" xlink:href="#g0" x="37" y="131"/><use href="#g0" xlink:href="#g0" x="42" y="131"/><use href="#g2" xlink:href="#g2" x="17" y="126"/><use href="#g2" xlink:href="#g2" x="22" y="126"/><use href="#g4" xlink:href="#g4" x="27" y="126"/><use href="#g0" xlink:href="#g0" x="32" y="126"/><use href="#g0" xlink:href="#g0" x="37" y="126"/><use href="#g0" xlink:href="#g0" x="42" y="126"/><use href="#g2" xlink:href="#g2" x="17" y="121"/><use href="#g2" xlink:href="#g2" x="22" y="121"/><use href="#g5" xlink:href="#g5" x="27" y="121"/><use href="#g0" xlink:href="#g0" x="32" y="121"/><use href="#g0" xlink:href="#g0" x="37" y="121"/><use href="#g0" xlink:href="#g0" x="42" y="121"/><use href="#g2" xlink:href="#g2" x="17" y="117"/><use href="#g2" xlink:href="#g2" x="22" y="117"/><use href="#g6" xlink:href="#g6" x="27" y="117"/><use href="#g0" xlink:href="#g0" x="32" y="117"/><use href="#g0" xlink:href="#g0" x="37" y="117"/><use href="#g0" xlink:href="#g0" x="42" y="117"/><use href="#g2" xlink:href="#g2" x="17" y="112"/><use href="#g2" xlink:href="#g2" x="22" y="112"/><use href="#g7" xlink:href="#g7" x="27" y="112"/><use href="#g0" xlink:href="#g0" x="32" y="112"/><use href="#g0" xlink:href="#g0" x="37" y="112"/><use href="#g0" xlink:href="#g0" x="42" y="112"/><use href="#g2" xlink:href="#g2" x="17" y="107"/><use href="#g2" xlink:href="#g2" x="22" y="107"/><use href="#g8" xlink:href="#g8" x="27" y="107"/><use href="#g0" xlink:href="#g0" x="32" y="107"/><use href="#g0" xlink:href="#g0" x="37" y="107"/><use href="#g0" xlink:href="#g0" x="42" y="107"/><use href="#g2" xlink:href="#g2" x="17" y="103"/><use href="#g2" xlink:href="#g2" x="22" y="103"/><use href="#g9" xlink:href="#g9" x="27" y="103"/><use href="#g0" xlink:href="#g0" x="32" y="103"/><use href="#g0" xlink:href="#g0" x="37" y="103"/><use href="#g0" xlink:href="#g0" x="42" y="103"/><use href="#g2" xlink:href="#g2" x="17" y="98"/><use href="#g3" xlink:href="#g3" x="22" y="98"/><use href="#g0" xlink:href="#g0" x="27" y="98"/><use href="#g0" xlink:href="#g0" x="32" y="98"/><use href="#g0" xlink:href="#g0" x="37" y="98"/><use href="#g0" xlink:href="#g0" x="42" y="98"/><use href="#g2" xlink:href="#g2" x="17" y="93"/><use href="#g3" xlink:href="#g3" x="22" y="93"/><use href="#g1" xlink:href="#g1" x="27" y="93"/><use href="#g0" xlink:href="#g0" x="32" y="93"/><use href="#g0" xlink:href="#g0" x="37" y="93"/><use href="#g0" xlink:href="#g0" x="42" y="93"/><use href="#g2" xlink:href="#g2" x="17" y="88"/><use href="#g3" xlink:href="#g3" x="22" y="88"/><use href="#g2" xlink:href="#g2" x="27" y="88"/><use href="#g0" xlink:href="#g0" x="32" y="88"/><use href="#g0" xlink:href="#g0" x="37" y="88"/><use href="#g0" xlink:href="#g0" x="42" y="88"/><use href="#g2" xlink:href="#g2" x="17" y="83"/><use href="#g3" xlink:href="#g3" x="22" y="83"/><use href="#g3" xlink:href="#g3" x="27" y="83"/><use href="#g0" xlink:href="#g0" x="32" y="83"/><use href="#g0" xlink:href="#g0" x="37" y="83"/><use href="#g0" xlink:href="#g0" x="42" y="83"/><use href="#g2" xlink:href="#g2" x="17" y="79"/><use href="#g3" xlink:href="#g3" x="22" y="79"/><use href="#g4" xlink:href="#g4" x="27" y="79"/><use href="#g0" xlink:href="#g0" x="32" y="79"/><use href="#g0" xlink:href="#g0" x="37" y="79"/><use href="#g0" xlink:href="#g0" x="42" y="79"/><use href="#g2" xlink:href="#g2" x="17" y="74"/><use href="#g3" xlink:href="#g3" x="22" y="74"/><use href="#g5" xlink:href="#g5" x="27" y="74"/><use href="#g0" xlink:href="#g0" x="32" y="74"/><use href="#g0" xlink:href="#g0" x="37" y="74"/><use href="#g0" xlink:href="#g0" x="42" y="74"/><use href="#g2" xlink:href="#g2" x="17" y="69"/><use href="#g3" xlink:href="#g3" x="22" y="69"/><use href="#g6" xlink:href="#g6" x="27" y="69"/><use href="#g0" xlink:href="#g0" x="32" y="69"/><use href="#g0" xlink:href="#g0" x="37" y="69"/><use href="#g0" xlink:href="#g0" x="42" y="69"/><use href="#g2" xlink:href="#g2" x="17" y="65"/><use href="#g3" xlink:href="#g3" x="22" y="65"/><use href="#g7" xlink:href="#g7" x="27" y="65"/><use href="#g0" xlink:href="#g0" x="32" y="65"/><use href="#g0" xlink:href="#g0" x="37" y="65"/><use href="#g0" xlink:href="#g0" x="42" y="65"/><use href="#g2" xlink:href="#g2" x="17" y="60"/><use href="#g3" xlink:href="#g3" x="22" y="60"/><use href="#g8" xlink:href="#g8" x="27" y="60"/><use href="#g0" xlink:href="#g0" x="32" y="60"/><use href="#g0" xlink:href="#g0" x="37" y="60"/><use href="#g0" xlink:href="#g0" x="42" y="60"/><use href="#g2" xlink:href="#g2" x="17" y="55"/><use href="#g3" xlink:href="#g3" x="22" y="55"/><use href="#g9" xlink:href="#g9" x="27" y="55"/><use href="#g0" xlink:href="#g0" x="32" y="55"/><use href="#g0" xlink:href="#g0" x="37" y="55"/><use href="#g0" xlink:href="#g0" x="42" y="55"/><use href="#g2" xlink:href="#g2" x="17" y="50"/><use href="#g4" xlink:href="#g4" x="22" y="50"/><use href="#g0" xlink:href="#g0" x="27" y="50"/><use href="#g0" xlink:href="#g0" x="32" y="50"/><use href="#g0" xlink:href="#g0" x="37" y="50"/><use href="#g0" xlink:href="#g0" x="42" y="50"/><use href="#g2" xlink:href="#g2" x="17" y="45"/><use href="#g4" xlink:href="#g4" x="22" y="45"/><use href="#g1" xlink:href="#g1" x="27" y="45"/><use href="#g0" xlink:href="#g0" x="32" y="45"/><use href="#g0" xlink:href="#g0" x="37" y="45"/><use href="#g0" xlink:href="#g0" x="42" y="45"/><use href="#g2" xlink:href="#g2" x="17" y="41"/><use href="#g4" xlink:href="#g4" x="22" y="41"/><use href="#g2" xlink:href="#g2" x="27" y="41"/><use href="#g0" xlink:href="#g0" x="32" y="41"/><use href="#g0" xlink:href="#g0" x="37" y="41"/><use href="#g0" xlink:href="#g0" x="42" y="41"/><use href="#g2" xlink:href="#g2" x="17" y="36"/><use href="#g4" xlink:href="#g4" x="22" y="36"/><use href="#g3" xlink:href="#g3" x="27" y="36"/><use href="#g0" xlink:href="#g0" x="32" y="36"/><use href="#g0" xlink:href="#g0" x="37" y="36"/><use href="#g0" xlink:href="#g0" x="42" y="36"/><use href="#g2" xlink:href="#g2" x="17" y="31"/><use href="#g4" xlink:href="#g4" x="22" y="31"/><use href="#g4" xlink:href="#g4" x="27" y="31"/><use href="#g0" xlink:href="#g0" x="32" y="31"/><use href="#g0" xlink:href="#g0" x="37" y="31"/><use href="#g0" xlink:href="#g0" x="42" y="31"/><use href="#g2" xlink:href="#g2" x="17" y="27"/><use href="#g4" xlink:href="#g4" x="22" y="27"/><use href="#g5" xlink:href="#g5" x="27" y="27"/><use href="#g0" xlink:href="#g0" x="32" y="27"/><use href="#g0" xlink:href="#g0" x="37" y="27"/><use href="#g0" xlink:href="#g0" x="42" y="27"/><use href="#g2" xlink:href="#g2" x="17" y="22"/><use href="#g4" xlink:href="#g4" x="22" y="22"/><use href="#g6" xlink:href="#g6" x="27" y="22"/><use href="#g0" xlink:href="#g0" x="32" y="22"/><use href="#g0" xlink:href="#g0" x="37" y="22"/><use href="#g0" xlink:href="#g0" x="42" y="22"/><use href="#g2" xlink:href="#g2" x="17" y="17"/><use href="#g4" xlink:href="#g4" x="22" y="17"/><use href="#g7" xlink:href="#g7" x="27" y="17"/><use href="#g0" xlink:href="#g0" x="32" y="17"/><use href="#g0" xlink:href="#g0" x="37" y="17"/><use href="#g0" xlink:href="#g0" x="42" y="17"/></g>
<path d="M92 566h1v5h-1zM133 566h1v5h-1zM175 566h1v5h-1zM216 566h1v5h-1zM257 566h1v5h-1zM298 566h1v5h-1zM340 566h1v5h-1zM381 566h1v5h-1zM422 566h1v5h-1zM463 566h1v5h-1zM504 566h1v5h-1zM546 566h1v5h-1zM587 566h1v5h-1zM628 566h1v5h-1zM669 566h1v5h-1zM710 566h1v5h-1zM752 566h1v5h-1zM793 566h1v5h-1zM834 566h1v5h-1zM875 566h1v5h-1zM917 566h1v5h-1zM958 566h1v5h-1z" fill="#000080"/>
<g fill="#000080"><use href="#g2" xlink:href="#g2" x="82" y="576"/><use href="#g0" xlink:href="#g0" x="87" y="576"/><use href="#g0" xlink:href="#g0" x="92" y="576"/><use href="#g4" xlink:href="#g4" x="97" y="576"/><use href="#g2" xlink:href="#g2" x="123" y="576"/><use href="#g0" xlink:href="#g0" x="128" y="576"/><use href="#g0" xlink:href="#g0" x="133" y="576"/><use href="#g5" xlink:href="#g5" x="138" y="576"/><use href="#g2" xlink:href="#g2" x="165" y="576"/><use href="#g0" xlink:href="#g0" x="170" y="576"/><use href="#g0" xlink:href="#g0" x="175" y="576"/><use href="#g6" xlink:href="#g6" x="180" y="576"/><use href="#g2" xlink:href="#g2" x="206" y="576"/><use href="#g0" xlink:href="#g0" x="211" y="576"/><use href="#g0" xlink:href="#g0" x="216" y="576"/><use href="#g7" xlink:href="#g7" x="221" y="576"/><use href="#g2" xlink:href="#g2" x="247" y="576"/><use href="#g0" xlink:href="#g0" x="252" y="576"/><use href="#g0" xlink:href="#g0" x="257" y="576"/><use href="#g8" xlink:href="#g8" x="262" y="576"/><use href="#g2" xlink:href="#g2" x="288" y="576"/><use href="#g0" xlink:href="#g0" x="293" y="576"/><use href="#g0" xlink:href="#g0" x="298" y="576"/><use href="#g9" xlink:href="#g9" x="303" y="576"/><use href="#g2" xlink:href="#g2" x="330" y="576"/><use href="#g0" xlink:href="#g0" x="335" y="576"/><use href="#g1" xlink:href="#g1" x="340" y="576"/><use href="#g0" xlink:href="#g0" x="345" y="576"/><use href="#g2" xlink:href="#g2" x="371" y="576"/><use href="#g0" xlink:href="#g0" x="376" y="576"/><use href="#g1" xlink:href="#g1" x="381" y="576"/><use href="#g1" xlink:href="#g1" x="386" y="576"/><use href="#g2" xlink:href="#g2" x="412" y="576"/><use href="#g0" xlink:href="#g0" x="417" y="576"/><use href="#g1" xlink:href="#g1" x="422" y="576"/><use href="#g2" xlink:href="#g2" x="427" y="576"/><use href="#g2" xlink:href="#g2" x="453" y="576"/><use href="#g0" xlink:href="#g0" x="458" y="576"/><use href="#g1" xlink:href="#g1" x="463" y="576"/><use href="#g3" xlink:href="#g3" x="468" y="576"/><use href="#g2" xlink:href="#g2" x="494" y="576"/><use href="#g0" xlink:href="#g0" x="499" y="576"/><use href="#g1" xlink:href="#g1" x="504" y="576"/><use href="#g4" xlink:href="#g4" x="509" y="576"/><use href="#g2" xlink:href="#g2" x="536" y="576"/><use href="#g0" xlink:href="#g0" x="541" y="576"/><use href="#g1" xlink:href="#g1" x="546" y="576"/><use href="#g5" xlink:href="#g5" x="551" y="576"/><use href="#g2" xlink:href="#g2" x="577" y="576"/><use href="#g0" xlink:href="#g0" x="582" y="576"/><use href="#g1" xlink:href="#g1" x="587" y="576"/><use href="#g6" xlink:href="#g6" x="592" y="576"/><use href="#g2" xlink:href="#g2" x="618" y="576"/><use href="#g0" xlink:href="#g0" x="623" y="576"/><use href="#g1" xlink:href="#g1" x="628" y="576"/><use href="#g7" xlink:href="#g7" x="633" y="576"/><use href="#g2" xlink:href="#g2" x="659" y="576"/><use href="#g0" xlink:href="#g0" x="664" y="576"/><use href="#g1" xlink:href="#g1" x="669" y="576"/><use href="#g8" xlink:href="#g8" x="674" y="576"/><use href="#g2" xlink:href="#g2" x="700" y="576"/><use href="#g0" xlink:href="#g0" x="705" y="576"/><use href="#g1" xlink:href="#g1" x="710" y="576"/><use href="#g9" xlink:href="#g9" x="715" y="576"/><use href="#g2" xlink:href="#g2" x="742" y="576"/><use href="#g0" xlink:href="#g0" x="747" y="576"/><use href="#g2" xlink:href="#g2" x="752" y="576"/><use href="#g0" xlink:href="#g0" x="757" y="576"/><use href="#g2" xlink:href="#g2" x="783" y="576"/><use href="#g0" xlink:href="#g0" x="788" y="576"/><use href="#g2" xlink:href="#g2" x="793" y="576"/><use href="#g1" xlink:href="#g1" x="798" y="576"/><use href="#g2" xlink:href="#g2" x="824" y="576"/><use href="#g0" xlink:href="#g0" x="829" y="576"/><use href="#g2" xlink:href="#g2" x="834" y="576"/><use href="#g2" xlink:href="#g2" x="839" y="576"/><use href="#g2" xlink:href="#g2" x="865" y="576"/><use href="#g0" xlink:href="#g0" x="870" y="576"/><use href="#g2" xlink:href="#g2" x="875" y="576"/><use href="#g3" xlink:href="#g3" x="880" y="576"/><use href="#g2" xlink:href="#g2" x="907" y="576"/><use href="#g0" xlink:href="#g0" x="912" y="576"/><use href="#g2" xlink:href="#g2" x="917" y="576"/><use href="#g4" xlink:href="#g4" x="922" y="576"/><use href="#g2" xlink:href="#g2" x="948" y="576"/><use href="#g0" xlink:href="#g0" x="953" y="576"/><use href="#g2" xlink:href="#g2" x="958" y="576"/><use href="#g5" xlink:href="#g5" x="963" y="576"/></g>
<text transform="translate(11,296.5) rotate(-90)" text-anchor="middle" font-family="Liberation Mono" font-size="11.5" letter-spacing="-0.9" fill="#000080">Bruttojahresgehalt zum Stichtag 31.10.</text>
<path d="M958 114h1v1h-1zM957 115h1v1h-1zM955 116h2v1h-2zM954 117h1v1h-1zM953 118h1v1h-1zM951 119h2v1h-2zM950 120h1v1h-1zM949 121h1v1h-1zM947 122h2v1h-2zM946 123h1v1h-1zM945 124h1v1h-1zM943 125h2v1h-2zM942 126h1v1h-1zM941 127h1v1h-1zM939 128h2v1h-2zM938 129h1v1h-1zM937 130h1v1h-1zM935 131h2v1h-2zM934 132h1v1h-1zM933 133h1v1h-1zM931 134h2v1h-2zM930 135h1v1h-1zM929 136h1v1h-1zM927 137h2v1h-2zM926 138h1v1h-1zM925 139h1v1h-1zM923 140h2v1h-2zM922 141h1v1h-1zM921 142h1v1h-1zM919 143h2v1h-2zM918 144h1v1h-1zM917 145h1v1h-1zM916 146h1v1h-1zM916 147h1v1h-1zM915 148h1v1h-1zM915 149h1v1h-1zM914 150h1v1h-1zM913 151h1v1h-1zM913 152h1v1h-1zM912 153h1v1h-1zM912 154h1v1h-1zM911 155h1v1h-1zM910 156h1v1h-1zM910 157h1v1h-1zM909 158h1v1h-1zM909 159h1v1h-1zM908 160h1v1h-1zM908 161h1v1h-1zM907 162h1v1h-1zM906 163h1v1h-1zM906 164h1v1h-1zM905 165h1v1h-1zM905 166h1v1h-1zM904 167h1v1h-1zM903 168h1v1h-1zM903 169h1v1h-1zM902 170h1v1h-1zM902 171h1v1h-1zM901 172h1v1h-1zM900 173h1v1h-1zM900 174h1v1h-1zM899 175h1v1h-1zM899 176h1v1h-1zM898 177h1v1h-1zM897 178h1v1h-1zM897 179h1v1h-1zM896 180h1v1h-1zM896 181h1v1h-1zM895 182h1v1h-1zM895 183h1v1h-1zM894 184h1v1h-1zM893 185h1v1h-1zM893 186h1v1h-1zM892 187h1v1h-1zM892 188h1v1h-1zM891 189h1v1h-1zM890 190h1v1h-1zM890 191h1v1h-1zM889 192h1v1h-1zM889 193h1v1h-1zM888 194h1v1h-1zM887 195h1v1h-1zM887 196h1v1h-1zM886 197h1v1h-1zM886 198h1v1h-1zM885 199h1v1h-1zM884 200h1v1h-1zM884 201h1v1h-1zM883 202h1v1h-1zM883 203h1v1h-1zM882 204h1v1h-1zM882 205h1v1h-1zM881 206h1v1h-1zM880 207h1v1h-1zM880 208h1v1h-1zM879 209h1v1h-1zM879 210h1v1h-1zM878 211h1v1h-1zM877 212h1v1h-1zM877 213h1v1h-1zM876 214h1v1h-1zM876 215h1v1h-1zM833 216h43v1h-43zM831 217h2v1h-2zM828 218h3v1h-3zM826 219h2v1h-2zM824 220h2v1h-2zM821 221h3v1h-3zM819 222h2v1h-2zM816 223h3v1h-3zM814 224h2v1h-2zM812 225h2v1h-2zM809 226h3v1h-3zM807 227h2v1h-2zM804 228h3v1h-3zM802 229h2v1h-2zM800 230h2v1h-2zM797 231h3v1h-3zM795 232h2v1h-2zM773 233h22v1h-22zM751 234h22v1h-22zM748 235h3v1h-3zM745 236h3v1h-3zM742 237h3v1h-3zM739 238h3v1h-3zM736 239h3v1h-3zM733 240h3v1h-3zM730 241h3v1h-3zM727 242h3v1h-3zM724 243h3v1h-3zM721 244h3v1h-3zM718 245h3v1h-3zM715 246h3v1h-3zM712 247h3v1h-3zM710 248h2v1h-2zM708 249h2v1h-2zM707 250h1v1h-1zM705 251h2v1h-2zM704 252h1v1h-1zM702 253h2v1h-2zM701 254h1v1h-1zM700 255h1v1h-1zM698 256h2v1h-2zM697 257h1v1h-1zM695 258h2v1h-2zM694 259h1v1h-1zM692 260h2v1h-2zM691 261h1v1h-1zM689 262h2v1h-2zM688 263h1v1h-1zM686 264h2v1h-2zM685 265h1v1h-1zM683 266h2v1h-2zM682 267h1v1h-1zM680 268h2v1h-2zM679 269h1v1h-1zM678 270h1v1h-1zM676 271h2v1h-2zM675 272h1v1h-1zM673 273h2v1h-2zM672 274h1v1h-1zM670 275h2v1h-2zM669 276h1v1h-1zM669 277h1v1h-1zM668 278h1v1h-1zM668 279h1v1h-1zM668 280h1v1h-1zM667 281h1v1h-1zM667 282h1v1h-1zM667 283h1v1h-1zM667 284h1v1h-1zM666 285h1v1h-1zM666 286h1v1h-1zM666 287h1v1h-1zM665 288h1v1h-1zM665 289h1v1h-1zM665 290h1v1h-1zM664 291h1v1h-1zM664 292h1v1h-1zM664 293h1v1h-1zM663 294h1v1h-1zM663 295h1v1h-1zM663 296h1v1h-1zM663 297h1v1h-1zM662 298h1v1h-1zM662 299h1v1h-1zM662 300h1v1h-1zM661 301h1v1h-1zM661 302h1v1h-1zM661 303h1v1h-1zM660 304h1v1h-1zM660 305h1v1h-1zM660 306h1v1h-1zM659 307h1v1h-1zM659 308h1v1h-1zM659 309h1v1h-1zM659 310h1v1h-1zM658 311h1v1h-1zM658 312h1v1h-1zM658 313h1v1h-1zM657 314h1v1h-1zM657 315h1v1h-1zM657 316h1v1h-1zM656 317h1v1h-1zM656 318h1v1h-1zM656 319h1v1h-1zM655 320h1v1h-1zM655 321h1v1h-1zM655 322h1v1h-1zM655 323h1v1h-1zM654 324h1v1h-1zM654 325h1v1h-1zM654 326h1v1h-1zM653 327h1v1h-1zM653 328h1v1h-1zM653 329h1v1h-1zM652 330h1v1h-1zM652 331h1v1h-1zM652 332h1v1h-1zM651 333h1v1h-1zM651 334h1v1h-1zM651 335h1v1h-1zM651 336h1v1h-1zM650 337h1v1h-1zM650 338h1v1h-1zM650 339h1v1h-1zM649 340h1v1h-1zM649 341h1v1h-1zM649 342h1v1h-1zM648 343h1v1h-1zM648 344h1v1h-1zM648 345h1v1h-1zM647 346h1v1h-1zM647 347h1v1h-1zM647 348h1v1h-1zM646 349h1v1h-1zM646 350h1v1h-1zM646 351h1v1h-1zM646 352h1v1h-1zM645 353h1v1h-1zM645 354h1v1h-1zM645 355h1v1h-1zM644 356h1v1h-1zM644 357h1v1h-1zM644 358h1v1h-1zM643 359h1v1h-1zM643 360h1v1h-1zM643 361h1v1h-1zM642 362h1v1h-1zM642 363h1v1h-1zM642 364h1v1h-1zM642 365h1v1h-1zM641 366h1v1h-1zM641 367h1v1h-1zM641 368h1v1h-1zM640 369h1v1h-1zM640 370h1v1h-1zM640 371h1v1h-1zM639 372h1v1h-1zM639 373h1v1h-1zM639 374h1v1h-1zM638 375h1v1h-1zM638 376h1v1h-1zM638 377h1v1h-1zM638 378h1v1h-1zM637 379h1v1h-1zM637 380h1v1h-1zM637 381h1v1h-1zM636 382h1v1h-1zM636 383h1v1h-1zM636 384h1v1h-1zM635 385h1v1h-1zM635 386h1v1h-1zM635 387h1v1h-1zM634 388h1v1h-1zM634 389h1v1h-1zM634 390h1v1h-1zM634 391h1v1h-1zM633 392h1v1h-1zM633 393h1v1h-1zM633 394h1v1h-1zM632 395h1v1h-1zM632 396h1v1h-1zM632 397h1v1h-1zM631 398h1v1h-1zM631 399h1v1h-1zM631 400h1v1h-1zM630 401h1v1h-1zM630 402h1v1h-1zM630 403h1v1h-1zM630 404h1v1h-1zM629 405h1v1h-1zM629 406h1v1h-1zM629 407h1v1h-1zM628 408h1v1h-1zM627 409h2v1h-2zM625 410h2v1h-2zM623 411h2v1h-2zM621 412h2v1h-2zM618 413h3v1h-3zM616 414h2v1h-2zM614 415h2v1h-2zM611 416h3v1h-3zM609 417h2v1h-2zM607 418h2v1h-2zM605 419h2v1h-2zM602 420h3v1h-3zM600 421h2v1h-2zM598 422h2v1h-2zM595 423h3v1h-3zM593 424h2v1h-2zM591 425h2v1h-2zM589 426h2v1h-2zM586 427h3v1h-3zM584 428h2v1h-2zM581 429h3v1h-3zM579 430h2v1h-2zM576 431h3v1h-3zM573 432h3v1h-3zM571 433h2v1h-2zM568 434h3v1h-3zM566 435h2v1h-2zM563 436h3v1h-3zM561 437h2v1h-2zM558 438h3v1h-3zM555 439h3v1h-3zM553 440h2v1h-2zM550 441h3v1h-3zM548 442h2v1h-2zM545 443h3v1h-3zM542 444h3v1h-3zM539 445h3v1h-3zM536 446h3v1h-3zM533 447h3v1h-3zM530 448h3v1h-3zM527 449h3v1h-3zM524 450h3v1h-3zM521 451h3v1h-3zM518 452h3v1h-3zM515 453h3v1h-3zM512 454h3v1h-3zM509 455h3v1h-3zM506 456h3v1h-3zM503 457h3v1h-3zM501 458h2v1h-2zM499 459h2v1h-2zM497 460h2v1h-2zM495 461h2v1h-2zM493 462h2v1h-2zM491 463h2v1h-2zM489 464h2v1h-2zM487 465h2v1h-2zM485 466h2v1h-2zM483 467h2v1h-2zM481 468h2v1h-2zM479 469h2v1h-2zM477 470h2v1h-2zM475 471h2v1h-2zM473 472h2v1h-2zM471 473h2v1h-2zM469 474h2v1h-2zM467 475h2v1h-2zM465 476h2v1h-2zM462 477h3v1h-3zM460 478h2v1h-2zM458 479h2v1h-2zM456 480h2v1h-2zM453 481h3v1h-3zM451 482h2v1h-2zM449 483h2v1h-2zM446 484h3v1h-3zM444 485h2v1h-2zM442 486h2v1h-2zM440 487h2v1h-2zM437 488h3v1h-3zM435 489h2v1h-2zM433 490h2v1h-2zM430 491h3v1h-3zM428 492h2v1h-2zM426 493h2v1h-2zM424 494h2v1h-2zM422 495h2v1h-2zM421 496h1v1h-1zM420 497h1v1h-1zM419 498h1v1h-1zM418 499h1v1h-1zM417 500h1v1h-1zM416 501h1v1h-1zM415 502h1v1h-1zM414 503h1v1h-1zM413 504h1v1h-1zM412 505h1v1h-1zM411 506h1v1h-1zM410 507h1v1h-1zM409 508h1v1h-1zM408 509h1v1h-1zM407 510h1v1h-1zM406 511h1v1h-1zM405 512h1v1h-1zM404 513h1v1h-1zM403 514h1v1h-1zM401 515h2v1h-2zM400 516h1v1h-1zM399 517h1v1h-1zM398 518h1v1h-1zM397 519h1v1h-1zM396 520h1v1h-1zM395 521h1v1h-1zM394 522h1v1h-1zM393 523h1v1h-1zM392 524h1v1h-1zM391 525h1v1h-1zM390 526h1v1h-1zM389 527h1v1h-1zM388 528h1v1h-1zM387 529h1v1h-1zM386 530h1v1h-1zM385 531h1v1h-1zM384 532h1v1h-1zM383 533h1v1h-1zM382 534h1v1h-1zM376 535h6v1h-6zM366 536h10v1h-10zM356 537h10v1h-10zM346 538h10v1h-10zM338 539h8v1h-8zM333 540h5v1h-5zM327 541h6v1h-6zM322 542h5v1h-5zM317 543h5v1h-5zM312 544h5v1h-5zM92 545h43v1h-43zM306 545h6v1h-6zM135 546h3v1h-3zM301 546h5v1h-5zM138 547h2v1h-2zM297 547h4v1h-4zM140 548h3v1h-3zM295 548h2v1h-2zM143 549h3v1h-3zM293 549h2v1h-2zM146 550h3v1h-3zM291 550h2v1h-2zM149 551h3v1h-3zM289 551h2v1h-2zM152 552h2v1h-2zM287 552h2v1h-2zM154 553h3v1h-3zM284 553h3v1h-3zM157 554h3v1h-3zM282 554h2v1h-2zM160 555h3v1h-3zM280 555h2v1h-2zM163 556h3v1h-3zM278 556h2v1h-2zM166 557h2v1h-2zM276 557h2v1h-2zM168 558h3v1h-3zM274 558h2v1h-2zM171 559h3v1h-3zM272 559h2v1h-2zM174 560h46v1h-46zM269 560h3v1h-3zM220 561h7v1h-7zM267 561h2v1h-2zM227 562h7v1h-7zM265 562h2v1h-2zM234 563h6v1h-6zM263 563h2v1h-2zM240 564h7v1h-7zM261 564h2v1h-2zM247 565h7v1h-7zM259 565h2v1h-2zM254 566h5v1h-5z" fill="#ff0000"/>
<path d="M90 544h5v5h-5zM89 546h7v1h-7zM92 543h1v7h-1zM131 544h5v5h-5zM130 546h7v1h-7zM133 543h1v7h-1zM173 559h5v5h-5zM172 561h7v1h-7zM175 558h1v7h-1zM214 559h5v5h-5zM213 561h7v1h-7zM216 558h1v7h-1zM255 565h5v5h-5zM254 567h7v1h-7zM257 564h1v7h-1zM296 546h5v5h-5zM295 548h7v1h-7zM298 545h1v7h-1zM338 538h5v5h-5zM337 540h7v1h-7zM340 537h1v7h-1zM379 534h5v5h-5zM378 536h7v1h-7zM381 533h1v7h-1zM420 494h5v5h-5zM419 496h7v1h-7zM422 493h1v7h-1zM461 476h5v5h-5zM460 478h7v1h-7zM463 475h1v7h-1zM502 456h5v5h-5zM501 458h7v1h-7zM504 455h1v7h-1zM544 442h5v5h-5zM543 444h7v1h-7zM546 441h1v7h-1zM585 426h5v5h-5zM584 428h7v1h-7zM587 425h1v7h-1zM626 408h5v5h-5zM625 410h7v1h-7zM628 407h1v7h-1zM667 275h5v5h-5zM666 277h7v1h-7zM669 274h1v7h-1zM708 247h5v5h-5zM707 249h7v1h-7zM710 246h1v7h-1zM750 233h5v5h-5zM749 235h7v1h-7zM752 232h1v7h-1zM791 232h5v5h-5zM790 234h7v1h-7zM793 231h1v7h-1zM832 215h5v5h-5zM831 217h7v1h-7zM834 214h1v7h-1zM873 215h5v5h-5zM872 217h7v1h-7zM875 214h1v7h-1zM915 144h5v5h-5zM914 146h7v1h-7zM917 143h1v7h-1zM956 113h5v5h-5zM955 115h7v1h-7zM958 112h1v7h-1z" fill="#ff0000"/>
<path d="M958 20h1v1h-1zM958 21h1v1h-1zM957 22h1v1h-1zM957 23h1v1h-1zM957 24h1v1h-1zM956 25h1v1h-1zM956 26h1v1h-1zM956 27h1v1h-1zM955 28h1v1h-1zM955 29h1v1h-1zM954 30h1v1h-1zM954 31h1v1h-1zM954 32h1v1h-1zM953 33h1v1h-1zM953 34h1v1h-1zM953 35h1v1h-1zM952 36h1v1h-1zM952 37h1v1h-1zM952 38h1v1h-1zM951 39h1v1h-1zM951 40h1v1h-1zM951 41h1v1h-1zM950 42h1v1h-1zM950 43h1v1h-1zM950 44h1v1h-1zM949 45h1v1h-1zM949 46h1v1h-1zM948 47h1v1h-1zM948 48h1v1h-1zM948 49h1v1h-1zM947 50h1v1h-1zM947 51h1v1h-1zM947 52h1v1h-1zM946 53h1v1h-1zM946 54h1v1h-1zM946 55h1v1h-1zM945 56h1v1h-1zM945 57h1v1h-1zM945 58h1v1h-1zM944 59h1v1h-1zM944 60h1v1h-1zM944 61h1v1h-1zM943 62h1v1h-1zM943 63h1v1h-1zM942 64h1v1h-1zM942 65h1v1h-1zM942 66h1v1h-1zM941 67h1v1h-1zM941 68h1v1h-1zM941 69h1v1h-1zM940 70h1v1h-1zM940 71h1v1h-1zM940 72h1v1h-1zM939 73h1v1h-1zM939 74h1v1h-1zM939 75h1v1h-1zM938 76h1v1h-1zM938 77h1v1h-1zM937 78h1v1h-1zM937 79h1v1h-1zM937 80h1v1h-1zM936 81h1v1h-1zM936 82h1v1h-1zM936 83h1v1h-1zM935 84h1v1h-1zM935 85h1v1h-1zM935 86h1v1h-1zM934 87h1v1h-1zM934 88h1v1h-1zM934 89h1v1h-1zM933 90h1v1h-1zM933 91h1v1h-1zM933 92h1v1h-1zM932 93h1v1h-1zM932 94h1v1h-1zM931 95h1v1h-1zM931 96h1v1h-1zM931 97h1v1h-1zM930 98h1v1h-1zM930 99h1v1h-1zM930 100h1v1h-1zM929 101h1v1h-1zM929 102h1v1h-1zM929 103h1v1h-1zM928 104h1v1h-1zM928 105h1v1h-1zM928 106h1v1h-1zM927 107h1v1h-1zM927 108h1v1h-1zM927 109h1v1h-1zM926 110h1v1h-1zM926 111h1v1h-1zM925 112h1v1h-1zM925 113h1v1h-1zM925 114h1v1h-1zM924 115h1v1h-1zM924 116h1v1h-1zM924 117h1v1h-1zM923 118h1v1h-1zM923 119h1v1h-1zM923 120h1v1h-1zM922 121h1v1h-1zM922 122h1v1h-1zM922 123h1v1h-1zM921 124h1v1h-1zM921 125h1v1h-1zM921 126h1v1h-1zM920 127h1v1h-1zM920 128h1v1h-1zM919 129h1v1h-1zM919 130h1v1h-1zM919 131h1v1h-1zM918 132h1v1h-1zM918 133h1v1h-1zM918 134h1v1h-1zM917 135h1v1h-1zM875 136h43v1h-43zM875 137h1v1h-1zM874 138h1v1h-1zM874 139h1v1h-1zM873 140h1v1h-1zM873 141h1v1h-1zM872 142h1v1h-1zM872 143h1v1h-1zM871 144h1v1h-1zM871 145h1v1h-1zM871 146h1v1h-1zM870 147h1v1h-1zM870 148h1v1h-1zM869 149h1v1h-1zM869 150h1v1h-1zM868 151h1v1h-1zM868 152h1v1h-1zM868 153h1v1h-1zM867 154h1v1h-1zM867 155h1v1h-1zM866 156h1v1h-1zM866 157h1v1h-1zM865 158h1v1h-1zM865 159h1v1h-1zM864 160h1v1h-1zM864 161h1v1h-1zM864 162h1v1h-1zM863 163h1v1h-1zM863 164h1v1h-1zM862 165h1v1h-1zM862 166h1v1h-1zM861 167h1v1h-1zM861 168h1v1h-1zM860 169h1v1h-1zM860 170h1v1h-1zM860 171h1v1h-1zM859 172h1v1h-1zM859 173h1v1h-1zM858 174h1v1h-1zM858 175h1v1h-1zM857 176h1v1h-1zM857 177h1v1h-1zM856 178h1v1h-1zM856 179h1v1h-1zM856 180h1v1h-1zM855 181h1v1h-1zM855 182h1v1h-1zM854 183h1v1h-1zM854 184h1v1h-1zM853 185h1v1h-1zM853 186h1v1h-1zM853 187h1v1h-1zM852 188h1v1h-1zM852 189h1v1h-1zM851 190h1v1h-1zM851 191h1v1h-1zM850 192h1v1h-1zM850 193h1v1h-1zM849 194h1v1h-1zM849 195h1v1h-1zM849 196h1v1h-1zM848 197h1v1h-1zM848 198h1v1h-1zM847 199h1v1h-1zM847 200h1v1h-1zM846 201h1v1h-1zM846 202h1v1h-1zM845 203h1v1h-1zM845 204h1v1h-1zM845 205h1v1h-1zM844 206h1v1h-1zM844 207h1v1h-1zM843 208h1v1h-1zM843 209h1v1h-1zM842 210h1v1h-1zM842 211h1v1h-1zM841 212h1v1h-1zM841 213h1v1h-1zM841 214h1v1h-1zM840 215h1v1h-1zM840 216h1v1h-1zM839 217h1v1h-1zM839 218h1v1h-1zM838 219h1v1h-1zM838 220h1v1h-1zM838 221h1v1h-1zM837 222h1v1h-1zM837 223h1v1h-1zM836 224h1v1h-1zM836 225h1v1h-1zM835 226h1v1h-1zM835 227h1v1h-1zM834 228h1v1h-1zM792 229h43v1h-43zM789 230h3v1h-3zM786 231h3v1h-3zM783 232h3v1h-3zM780 233h3v1h-3zM777 234h3v1h-3zM774 235h3v1h-3zM772 236h2v1h-2zM769 237h3v1h-3zM766 238h3v1h-3zM763 239h3v1h-3zM760 240h3v1h-3zM757 241h3v1h-3zM754 242h3v1h-3zM752 243h2v1h-2zM750 244h2v1h-2zM749 245h1v1h-1zM747 246h2v1h-2zM746 247h1v1h-1zM745 248h1v1h-1zM743 249h2v1h-2zM742 250h1v1h-1zM740 251h2v1h-2zM739 252h1v1h-1zM737 253h2v1h-2zM736 254h1v1h-1zM734 255h2v1h-2zM733 256h1v1h-1zM731 257h2v1h-2zM730 258h1v1h-1zM729 259h1v1h-1zM727 260h2v1h-2zM726 261h1v1h-1zM724 262h2v1h-2zM723 263h1v1h-1zM721 264h2v1h-2zM720 265h1v1h-1zM718 266h2v1h-2zM717 267h1v1h-1zM716 268h1v1h-1zM714 269h2v1h-2zM713 270h1v1h-1zM711 271h2v1h-2zM710 272h1v1h-1zM710 273h1v1h-1zM709 274h1v1h-1zM709 275h1v1h-1zM709 276h1v1h-1zM709 277h1v1h-1zM708 278h1v1h-1zM708 279h1v1h-1zM708 280h1v1h-1zM707 281h1v1h-1zM707 282h1v1h-1zM707 283h1v1h-1zM706 284h1v1h-1zM706 285h1v1h-1zM706 286h1v1h-1zM706 287h1v1h-1zM705 288h1v1h-1zM705 289h1v1h-1zM705 290h1v1h-1zM704 291h1v1h-1zM704 292h1v1h-1zM704 293h1v1h-1zM703 294h1v1h-1zM703 295h1v1h-1zM703 296h1v1h-1zM703 297h1v1h-1zM702 298h1v1h-1zM702 299h1v1h-1zM702 300h1v1h-1zM701 301h1v1h-1zM701 302h1v1h-1zM701 303h1v1h-1zM700 304h1v1h-1zM700 305h1v1h-1zM700 306h1v1h-1zM700 307h1v1h-1zM699 308h1v1h-1zM699 309h1v1h-1zM699 310h1v1h-1zM698 311h1v1h-1zM698 312h1v1h-1zM698 313h1v1h-1zM697 314h1v1h-1zM697 315h1v1h-1zM697 316h1v1h-1zM697 317h1v1h-1zM696 318h1v1h-1zM696 319h1v1h-1zM696 320h1v1h-1zM695 321h1v1h-1zM695 322h1v1h-1zM695 323h1v1h-1zM694 324h1v1h-1zM694 325h1v1h-1zM694 326h1v1h-1zM694 327h1v1h-1zM693 328h1v1h-1zM693 329h1v1h-1zM693 330h1v1h-1zM692 331h1v1h-1zM692 332h1v1h-1zM692 333h1v1h-1zM691 334h1v1h-1zM691 335h1v1h-1zM691 336h1v1h-1zM691 337h1v1h-1zM690 338h1v1h-1zM690 339h1v1h-1zM690 340h1v1h-1zM689 341h1v1h-1zM689 342h1v1h-1zM689 343h1v1h-1zM688 344h1v1h-1zM688 345h1v1h-1zM688 346h1v1h-1zM688 347h1v1h-1zM687 348h1v1h-1zM687 349h1v1h-1zM687 350h1v1h-1zM686 351h1v1h-1zM686 352h1v1h-1zM686 353h1v1h-1zM685 354h1v1h-1zM685 355h1v1h-1zM685 356h1v1h-1zM685 357h1v1h-1zM684 358h1v1h-1zM684 359h1v1h-1zM684 360h1v1h-1zM683 361h1v1h-1zM683 362h1v1h-1zM683 363h1v1h-1zM682 364h1v1h-1zM682 365h1v1h-1zM682 366h1v1h-1zM682 367h1v1h-1zM681 368h1v1h-1zM681 369h1v1h-1zM681 370h1v1h-1zM680 371h1v1h-1zM680 372h1v1h-1zM680 373h1v1h-1zM679 374h1v1h-1zM679 375h1v1h-1zM679 376h1v1h-1zM679 377h1v1h-1zM678 378h1v1h-1zM678 379h1v1h-1zM678 380h1v1h-1zM677 381h1v1h-1zM677 382h1v1h-1zM677 383h1v1h-1zM676 384h1v1h-1zM676 385h1v1h-1zM676 386h1v1h-1zM676 387h1v1h-1zM675 388h1v1h-1zM675 389h1v1h-1zM675 390h1v1h-1zM674 391h1v1h-1zM674 392h1v1h-1zM674 393h1v1h-1zM673 394h1v1h-1zM673 395h1v1h-1zM673 396h1v1h-1zM673 397h1v1h-1zM672 398h1v1h-1zM672 399h1v1h-1zM672 400h1v1h-1zM671 401h1v1h-1zM671 402h1v1h-1zM671 403h1v1h-1zM670 404h1v1h-1zM670 405h1v1h-1zM670 406h1v1h-1zM670 407h1v1h-1zM669 408h1v1h-1zM668 409h2v1h-2zM666 410h2v1h-2zM664 411h2v1h-2zM662 412h2v1h-2zM660 413h2v1h-2zM658 414h2v1h-2zM656 415h2v1h-2zM654 416h2v1h-2zM652 417h2v1h-2zM650 418h2v1h-2zM648 419h2v1h-2zM646 420h2v1h-2zM644 421h2v1h-2zM642 422h2v1h-2zM640 423h2v1h-2zM638 424h2v1h-2zM636 425h2v1h-2zM634 426h2v1h-2zM632 427h2v1h-2zM630 428h2v1h-2zM628 429h2v1h-2zM626 430h2v1h-2zM625 431h1v1h-1zM623 432h2v1h-2zM622 433h1v1h-1zM620 434h2v1h-2zM619 435h1v1h-1zM618 436h1v1h-1zM616 437h2v1h-2zM615 438h1v1h-1zM613 439h2v1h-2zM612 440h1v1h-1zM610 441h2v1h-2zM609 442h1v1h-1zM607 443h2v1h-2zM606 444h1v1h-1zM604 445h2v1h-2zM603 446h1v1h-1zM601 447h2v1h-2zM600 448h1v1h-1zM598 449h2v1h-2zM597 450h1v1h-1zM596 451h1v1h-1zM594 452h2v1h-2zM593 453h1v1h-1zM591 454h2v1h-2zM590 455h1v1h-1zM588 456h2v1h-2zM586 457h2v1h-2zM583 458h3v1h-3zM581 459h2v1h-2zM578 460h3v1h-3zM575 461h3v1h-3zM572 462h3v1h-3zM570 463h2v1h-2zM567 464h3v1h-3zM564 465h3v1h-3zM562 466h2v1h-2zM559 467h3v1h-3zM556 468h3v1h-3zM553 469h3v1h-3zM551 470h2v1h-2zM548 471h3v1h-3zM545 472h3v1h-3zM543 473h2v1h-2zM541 474h2v1h-2zM539 475h2v1h-2zM537 476h2v1h-2zM534 477h3v1h-3zM532 478h2v1h-2zM530 479h2v1h-2zM528 480h2v1h-2zM525 481h3v1h-3zM523 482h2v1h-2zM521 483h2v1h-2zM519 484h2v1h-2zM517 485h2v1h-2zM514 486h3v1h-3zM512 487h2v1h-2zM510 488h2v1h-2zM508 489h2v1h-2zM506 490h2v1h-2zM503 491h3v1h-3zM501 492h2v1h-2zM498 493h3v1h-3zM496 494h2v1h-2zM494 495h2v1h-2zM491 496h3v1h-3zM489 497h2v1h-2zM486 498h3v1h-3zM484 499h2v1h-2zM482 500h2v1h-2zM479 501h3v1h-3zM477 502h2v1h-2zM474 503h3v1h-3zM472 504h2v1h-2zM470 505h2v1h-2zM467 506h3v1h-3zM465 507h2v1h-2zM420 508h45v1h-45zM416 509h4v1h-4zM412 510h4v1h-4zM408 511h4v1h-4zM404 512h4v1h-4zM400 513h4v1h-4zM396 514h4v1h-4zM392 515h4v1h-4zM388 516h4v1h-4zM384 517h4v1h-4zM380 518h4v1h-4zM376 519h4v1h-4zM373 520h3v1h-3zM370 521h3v1h-3zM366 522h4v1h-4zM363 523h3v1h-3zM359 524h4v1h-4zM356 525h3v1h-3zM352 526h4v1h-4zM349 527h3v1h-3zM346 528h3v1h-3zM342 529h4v1h-4zM337 530h5v1h-5zM330 531h7v1h-7zM323 532h7v1h-7zM316 533h7v1h-7zM309 534h7v1h-7zM302 535h7v1h-7zM298 536h4v1h-4zM297 537h1v1h-1zM295 538h2v1h-2zM294 539h1v1h-1zM293 540h1v1h-1zM291 541h2v1h-2zM290 542h1v1h-1zM92 543h125v1h-125zM289 543h1v1h-1zM217 544h2v1h-2zM288 544h1v1h-1zM219 545h2v1h-2zM286 545h2v1h-2zM221 546h1v1h-1zM285 546h1v1h-1zM222 547h2v1h-2zM284 547h1v1h-1zM224 548h2v1h-2zM282 548h2v1h-2zM226 549h1v1h-1zM281 549h1v1h-1zM227 550h2v1h-2zM280 550h1v1h-1zM229 551h1v1h-1zM279 551h1v1h-1zM230 552h2v1h-2zM277 552h2v1h-2zM232 553h2v1h-2zM276 553h1v1h-1zM234 554h1v1h-1zM275 554h1v1h-1zM235 555h2v1h-2zM274 555h1v1h-1zM237 556h2v1h-2zM272 556h2v1h-2zM239 557h1v1h-1zM271 557h1v1h-1zM240 558h2v1h-2zM270 558h1v1h-1zM242 559h2v1h-2zM268 559h2v1h-2zM244 560h1v1h-1zM267 560h1v1h-1zM245 561h2v1h-2zM266 561h1v1h-1zM247 562h1v1h-1zM265 562h1v1h-1zM248 563h2v1h-2zM263 563h2v1h-2zM250 564h2v1h-2zM262 564h1v1h-1zM252 565h1v1h-1zM261 565h1v1h-1zM253 566h2v1h-2zM259 566h2v1h-2zM255 567h2v1h-2zM258 567h1v1h-1zM257 568h1v1h-1z" fill="#00ff00"/>
<path d="M90 542h5v5h-5zM89 544h7v1h-7zM92 541h1v7h-1zM131 542h5v5h-5zM130 544h7v1h-7zM133 541h1v7h-1zM173 542h5v5h-5zM172 544h7v1h-7zM175 541h1v7h-1zM214 542h5v5h-5zM213 544h7v1h-7zM216 541h1v7h-1zM255 567h5v5h-5zM254 569h7v1h-7zM257 566h1v7h-1zM296 535h5v5h-5zM295 537h7v1h-7zM298 534h1v7h-1zM338 529h5v5h-5zM337 531h7v1h-7zM340 528h1v7h-1zM379 517h5v5h-5zM378 519h7v1h-7zM381 516h1v7h-1zM420 507h5v5h-5zM419 509h7v1h-7zM422 506h1v7h-1zM461 507h5v5h-5zM460 509h7v1h-7zM463 506h1v7h-1zM502 490h5v5h-5zM501 492h7v1h-7zM504 489h1v7h-1zM544 471h5v5h-5zM543 473h7v1h-7zM546 470h1v7h-1zM585 456h5v5h-5zM584 458h7v1h-7zM587 455h1v7h-1zM626 428h5v5h-5zM625 430h7v1h-7zM628 427h1v7h-1zM667 408h5v5h-5zM666 410h7v1h-7zM669 407h1v7h-1zM708 271h5v5h-5zM707 273h7v1h-7zM710 270h1v7h-1zM750 242h5v5h-5zM749 244h7v1h-7zM752 241h1v7h-1zM791 228h5v5h-5zM790 230h7v1h-7zM793 227h1v7h-1zM832 228h5v5h-5zM831 230h7v1h-7zM834 227h1v7h-1zM873 135h5v5h-5zM872 137h7v1h-7zM875 134h1v7h-1zM915 135h5v5h-5zM914 137h7v1h-7zM917 134h1v7h-1zM956 19h5v5h-5zM955 21h7v1h-7zM958 18h1v7h-1z" fill="#00ff00"/>
<path d="M958 66h1v1h-1zM957 67h1v1h-1zM957 68h1v1h-1zM956 69h1v1h-1zM956 70h1v1h-1zM955 71h1v1h-1zM955 72h1v1h-1zM954 73h1v1h-1zM954 74h1v1h-1zM953 75h1v1h-1zM953 76h1v1h-1zM952 77h1v1h-1zM952 78h1v1h-1zM951 79h1v1h-1zM951 80h1v1h-1zM950 81h1v1h-1zM950 82h1v1h-1zM949 83h1v1h-1zM949 84h1v1h-1zM948 85h1v1h-1zM947 86h1v1h-1zM947 87h1v1h-1zM946 88h1v1h-1zM946 89h1v1h-1zM945 90h1v1h-1zM945 91h1v1h-1zM944 92h1v1h-1zM944 93h1v1h-1zM943 94h1v1h-1zM943 95h1v1h-1zM942 96h1v1h-1zM942 97h1v1h-1zM941 98h1v1h-1zM941 99h1v1h-1zM940 100h1v1h-1zM940 101h1v1h-1zM939 102h1v1h-1zM939 103h1v1h-1zM938 104h1v1h-1zM937 105h1v1h-1zM937 106h1v1h-1zM936 107h1v1h-1zM936 108h1v1h-1zM935 109h1v1h-1zM935 110h1v1h-1zM934 111h1v1h-1zM934 112h1v1h-1zM933 113h1v1h-1zM933 114h1v1h-1zM932 115h1v1h-1zM932 116h1v1h-1zM931 117h1v1h-1zM931 118h1v1h-1zM930 119h1v1h-1zM930 120h1v1h-1zM929 121h1v1h-1zM929 122h1v1h-1zM928 123h1v1h-1zM928 124h1v1h-1zM927 125h1v1h-1zM926 126h1v1h-1zM926 127h1v1h-1zM925 128h1v1h-1zM925 129h1v1h-1zM924 130h1v1h-1zM924 131h1v1h-1zM923 132h1v1h-1zM923 133h1v1h-1zM922 134h1v1h-1zM922 135h1v1h-1zM921 136h1v1h-1zM921 137h1v1h-1zM920 138h1v1h-1zM920 139h1v1h-1zM919 140h1v1h-1zM919 141h1v1h-1zM918 142h1v1h-1zM918 143h1v1h-1zM875 144h43v1h-43zM874 145h1v1h-1zM874 146h1v1h-1zM873 147h1v1h-1zM872 148h1v1h-1zM872 149h1v1h-1zM871 150h1v1h-1zM871 151h1v1h-1zM870 152h1v1h-1zM869 153h1v1h-1zM869 154h1v1h-1zM868 155h1v1h-1zM867 156h1v1h-1zM867 157h1v1h-1zM866 158h1v1h-1zM866 159h1v1h-1zM865 160h1v1h-1zM864 161h1v1h-1zM864 162h1v1h-1zM863 163h1v1h-1zM862 164h1v1h-1zM862 165h1v1h-1zM861 166h1v1h-1zM860 167h1v1h-1zM860 168h1v1h-1zM859 169h1v1h-1zM859 170h1v1h-1zM858 171h1v1h-1zM857 172h1v1h-1zM857 173h1v1h-1zM856 174h1v1h-1zM855 175h1v1h-1zM855 176h1v1h-1zM854 177h1v1h-1zM854 178h1v1h-1zM853 179h1v1h-1zM852 180h1v1h-1zM852 181h1v1h-1zM851 182h1v1h-1zM850 183h1v1h-1zM850 184h1v1h-1zM849 185h1v1h-1zM849 186h1v1h-1zM848 187h1v1h-1zM847 188h1v1h-1zM847 189h1v1h-1zM846 190h1v1h-1zM845 191h1v1h-1zM845 192h1v1h-1zM844 193h1v1h-1zM843 194h1v1h-1zM843 195h1v1h-1zM842 196h1v1h-1zM842 197h1v1h-1zM841 198h1v1h-1zM840 199h1v1h-1zM840 200h1v1h-1zM839 201h1v1h-1zM838 202h1v1h-1zM838 203h1v1h-1zM837 204h1v1h-1zM837 205h1v1h-1zM836 206h1v1h-1zM835 207h1v1h-1zM835 208h1v1h-1zM792 209h43v1h-43zM789 210h3v1h-3zM786 211h3v1h-3zM783 212h3v1h-3zM780 213h3v1h-3zM777 214h3v1h-3zM774 215h3v1h-3zM772 216h2v1h-2zM769 217h3v1h-3zM766 218h3v1h-3zM763 219h3v1h-3zM760 220h3v1h-3zM757 221h3v1h-3zM754 222h3v1h-3zM752 223h2v1h-2zM750 224h2v1h-2zM749 225h1v1h-1zM748 226h1v1h-1zM746 227h2v1h-2zM745 228h1v1h-1zM743 229h2v1h-2zM742 230h1v1h-1zM741 231h1v1h-1zM739 232h2v1h-2zM738 233h1v1h-1zM736 234h2v1h-2zM735 235h1v1h-1zM734 236h1v1h-1zM732 237h2v1h-2zM731 238h1v1h-1zM729 239h2v1h-2zM728 240h1v1h-1zM727 241h1v1h-1zM725 242h2v1h-2zM724 243h1v1h-1zM722 244h2v1h-2zM721 245h1v1h-1zM720 246h1v1h-1zM718 247h2v1h-2zM717 248h1v1h-1zM715 249h2v1h-2zM714 250h1v1h-1zM713 251h1v1h-1zM711 252h2v1h-2zM710 253h1v1h-1zM710 254h1v1h-1zM709 255h1v1h-1zM709 256h1v1h-1zM709 257h1v1h-1zM709 258h1v1h-1zM708 259h1v1h-1zM708 260h1v1h-1zM708 261h1v1h-1zM707 262h1v1h-1zM707 263h1v1h-1zM707 264h1v1h-1zM706 265h1v1h-1zM706 266h1v1h-1zM706 267h1v1h-1zM706 268h1v1h-1zM705 269h1v1h-1zM705 270h1v1h-1zM705 271h1v1h-1zM704 272h1v1h-1zM704 273h1v1h-1zM704 274h1v1h-1zM703 275h1v1h-1zM703 276h1v1h-1zM703 277h1v1h-1zM703 278h1v1h-1zM702 279h1v1h-1zM702 280h1v1h-1zM702 281h1v1h-1zM701 282h1v1h-1zM701 283h1v1h-1zM701 284h1v1h-1zM700 285h1v1h-1zM700 286h1v1h-1zM700 287h1v1h-1zM700 288h1v1h-1zM699 289h1v1h-1zM699 290h1v1h-1zM699 291h1v1h-1zM698 292h1v1h-1zM698 293h1v1h-1zM698 294h1v1h-1zM698 295h1v1h-1zM697 296h1v1h-1zM697 297h1v1h-1zM697 298h1v1h-1zM696 299h1v1h-1zM696 300h1v1h-1zM696 301h1v1h-1zM695 302h1v1h-1zM695 303h1v1h-1zM695 304h1v1h-1zM695 305h1v1h-1zM694 306h1v1h-1zM694 307h1v1h-1zM694 308h1v1h-1zM693 309h1v1h-1zM693 310h1v1h-1zM693 311h1v1h-1zM692 312h1v1h-1zM692 313h1v1h-1zM692 314h1v1h-1zM692 315h1v1h-1zM691 316h1v1h-1zM691 317h1v1h-1zM691 318h1v1h-1zM690 319h1v1h-1zM690 320h1v1h-1zM690 321h1v1h-1zM689 322h1v1h-1zM689 323h1v1h-1zM689 324h1v1h-1zM689 325h1v1h-1zM688 326h1v1h-1zM688 327h1v1h-1zM688 328h1v1h-1zM687 329h1v1h-1zM687 330h1v1h-1zM687 331h1v1h-1zM687 332h1v1h-1zM686 333h1v1h-1zM686 334h1v1h-1zM686 335h1v1h-1zM685 336h1v1h-1zM685 337h1v1h-1zM685 338h1v1h-1zM684 339h1v1h-1zM684 340h1v1h-1zM684 341h1v1h-1zM684 342h1v1h-1zM683 343h1v1h-1zM683 344h1v1h-1zM683 345h1v1h-1zM682 346h1v1h-1zM682 347h1v1h-1zM682 348h1v1h-1zM681 349h1v1h-1zM681 350h1v1h-1zM681 351h1v1h-1zM681 352h1v1h-1zM680 353h1v1h-1zM680 354h1v1h-1zM680 355h1v1h-1zM679 356h1v1h-1zM679 357h1v1h-1zM679 358h1v1h-1zM679 359h1v1h-1zM678 360h1v1h-1zM678 361h1v1h-1zM678 362h1v1h-1zM677 363h1v1h-1zM677 364h1v1h-1zM677 365h1v1h-1zM676 366h1v1h-1zM676 367h1v1h-1zM676 368h1v1h-1zM676 369h1v1h-1zM675 370h1v1h-1zM675 371h1v1h-1zM675 372h1v1h-1zM674 373h1v1h-1zM674 374h1v1h-1zM674 375h1v1h-1zM673 376h1v1h-1zM673 377h1v1h-1zM673 378h1v1h-1zM673 379h1v1h-1zM672 380h1v1h-1zM672 381h1v1h-1zM672 382h1v1h-1zM671 383h1v1h-1zM671 384h1v1h-1zM671 385h1v1h-1zM670 386h1v1h-1zM670 387h1v1h-1zM670 388h1v1h-1zM670 389h1v1h-1zM669 390h1v1h-1zM668 391h2v1h-2zM666 392h2v1h-2zM664 393h2v1h-2zM662 394h2v1h-2zM660 395h2v1h-2zM658 396h2v1h-2zM655 397h3v1h-3zM653 398h2v1h-2zM651 399h2v1h-2zM649 400h2v1h-2zM647 401h2v1h-2zM645 402h2v1h-2zM643 403h2v1h-2zM640 404h3v1h-3zM638 405h2v1h-2zM636 406h2v1h-2zM634 407h2v1h-2zM632 408h2v1h-2zM630 409h2v1h-2zM627 410h3v1h-3zM624 411h3v1h-3zM622 412h2v1h-2zM619 413h3v1h-3zM616 414h3v1h-3zM613 415h3v1h-3zM611 416h2v1h-2zM608 417h3v1h-3zM605 418h3v1h-3zM603 419h2v1h-2zM600 420h3v1h-3zM597 421h3v1h-3zM594 422h3v1h-3zM592 423h2v1h-2zM589 424h3v1h-3zM586 425h3v1h-3zM584 426h2v1h-2zM581 427h3v1h-3zM579 428h2v1h-2zM577 429h2v1h-2zM574 430h3v1h-3zM572 431h2v1h-2zM569 432h3v1h-3zM567 433h2v1h-2zM565 434h2v1h-2zM562 435h3v1h-3zM560 436h2v1h-2zM557 437h3v1h-3zM555 438h2v1h-2zM553 439h2v1h-2zM550 440h3v1h-3zM548 441h2v1h-2zM545 442h3v1h-3zM543 443h2v1h-2zM540 444h3v1h-3zM537 445h3v1h-3zM535 446h2v1h-2zM532 447h3v1h-3zM529 448h3v1h-3zM527 449h2v1h-2zM524 450h3v1h-3zM522 451h2v1h-2zM519 452h3v1h-3zM516 453h3v1h-3zM514 454h2v1h-2zM511 455h3v1h-3zM508 456h3v1h-3zM506 457h2v1h-2zM503 458h3v1h-3zM501 459h2v1h-2zM499 460h2v1h-2zM497 461h2v1h-2zM495 462h2v1h-2zM493 463h2v1h-2zM491 464h2v1h-2zM489 465h2v1h-2zM487 466h2v1h-2zM485 467h2v1h-2zM483 468h2v1h-2zM481 469h2v1h-2zM479 470h2v1h-2zM477 471h2v1h-2zM475 472h2v1h-2zM473 473h2v1h-2zM471 474h2v1h-2zM469 475h2v1h-2zM467 476h2v1h-2zM465 477h2v1h-2zM463 478h2v1h-2zM461 479h2v1h-2zM460 480h1v1h-1zM459 481h1v1h-1zM457 482h2v1h-2zM456 483h1v1h-1zM454 484h2v1h-2zM453 485h1v1h-1zM451 486h2v1h-2zM450 487h1v1h-1zM449 488h1v1h-1zM447 489h2v1h-2zM446 490h1v1h-1zM444 491h2v1h-2zM443 492h1v1h-1zM442 493h1v1h-1zM440 494h2v1h-2zM439 495h1v1h-1zM437 496h2v1h-2zM436 497h1v1h-1zM435 498h1v1h-1zM433 499h2v1h-2zM432 500h1v1h-1zM430 501h2v1h-2zM429 502h1v1h-1zM427 503h2v1h-2zM426 504h1v1h-1zM425 505h1v1h-1zM423 506h2v1h-2zM421 507h2v1h-2zM418 508h3v1h-3zM415 509h3v1h-3zM412 510h3v1h-3zM409 511h3v1h-3zM406 512h3v1h-3zM403 513h3v1h-3zM401 514h2v1h-2zM398 515h3v1h-3zM395 516h3v1h-3zM392 517h3v1h-3zM389 518h3v1h-3zM386 519h3v1h-3zM383 520h3v1h-3zM361 521h22v1h-22zM338 522h23v1h-23zM333 523h5v1h-5zM327 524h6v1h-6zM322 525h5v1h-5zM317 526h5v1h-5zM312 527h5v1h-5zM306 528h6v1h-6zM301 529h5v1h-5zM298 530h3v1h-3zM296 531h2v1h-2zM294 532h2v1h-2zM292 533h2v1h-2zM290 534h2v1h-2zM288 535h2v1h-2zM286 536h2v1h-2zM284 537h2v1h-2zM282 538h2v1h-2zM280 539h2v1h-2zM278 540h2v1h-2zM276 541h2v1h-2zM92 542h86v1h-86zM274 542h2v1h-2zM178 543h4v1h-4zM272 543h2v1h-2zM182 544h5v1h-5zM270 544h2v1h-2zM187 545h4v1h-4zM268 545h2v1h-2zM191 546h5v1h-5zM266 546h2v1h-2zM196 547h5v1h-5zM264 547h2v1h-2zM201 548h4v1h-4zM262 548h2v1h-2zM205 549h5v1h-5zM260 549h2v1h-2zM210 550h4v1h-4zM258 550h2v1h-2zM214 551h44v1h-44z" fill="#0000ff"/>
<path d="M90 541h5v5h-5zM89 543h7v1h-7zM92 540h1v7h-1zM131 541h5v5h-5zM130 543h7v1h-7zM133 540h1v7h-1zM173 541h5v5h-5zM172 543h7v1h-7zM175 540h1v7h-1zM214 550h5v5h-5zM213 552h7v1h-7zM216 549h1v7h-1zM255 550h5v5h-5zM254 552h7v1h-7zM257 549h1v7h-1zM296 529h5v5h-5zM295 531h7v1h-7zM298 528h1v7h-1zM338 521h5v5h-5zM337 523h7v1h-7zM340 520h1v7h-1zM379 520h5v5h-5zM378 522h7v1h-7zM381 519h1v7h-1zM420 506h5v5h-5zM419 508h7v1h-7zM422 505h1v7h-1zM461 477h5v5h-5zM460 479h7v1h-7zM463 476h1v7h-1zM502 457h5v5h-5zM501 459h7v1h-7zM504 456h1v7h-1zM544 441h5v5h-5zM543 443h7v1h-7zM546 440h1v7h-1zM585 424h5v5h-5zM584 426h7v1h-7zM587 423h1v7h-1zM626 409h5v5h-5zM625 411h7v1h-7zM628 408h1v7h-1zM667 390h5v5h-5zM666 392h7v1h-7zM669 389h1v7h-1zM708 252h5v5h-5zM707 254h7v1h-7zM710 251h1v7h-1zM750 222h5v5h-5zM749 224h7v1h-7zM752 221h1v7h-1zM791 208h5v5h-5zM790 210h7v1h-7zM793 207h1v7h-1zM832 208h5v5h-5zM831 210h7v1h-7zM834 207h1v7h-1zM873 143h5v5h-5zM872 145h7v1h-7zM875 142h1v7h-1zM915 143h5v5h-5zM914 145h7v1h-7zM917 142h1v7h-1zM956 65h5v5h-5zM955 67h7v1h-7zM958 64h1v7h-1z" fill="#0000ff"/>
<path d="M958 19h1v1h-1zM957 20h1v1h-1zM956 21h1v1h-1zM956 22h1v1h-1zM955 23h1v1h-1zM954 24h1v1h-1zM953 25h1v1h-1zM953 26h1v1h-1zM952 27h1v1h-1zM951 28h1v1h-1zM950 29h1v1h-1zM950 30h1v1h-1zM949 31h1v1h-1zM948 32h1v1h-1zM947 33h1v1h-1zM947 34h1v1h-1zM946 35h1v1h-1zM945 36h1v1h-1zM944 37h1v1h-1zM944 38h1v1h-1zM943 39h1v1h-1zM942 40h1v1h-1zM941 41h1v1h-1zM941 42h1v1h-1zM940 43h1v1h-1zM939 44h1v1h-1zM938 45h1v1h-1zM937 46h1v1h-1zM937 47h1v1h-1zM936 48h1v1h-1zM935 49h1v1h-1zM934 50h1v1h-1zM934 51h1v1h-1zM933 52h1v1h-1zM932 53h1v1h-1zM931 54h1v1h-1zM931 55h1v1h-1zM930 56h1v1h-1zM929 57h1v1h-1zM928 58h1v1h-1zM928 59h1v1h-1zM927 60h1v1h-1zM926 61h1v1h-1zM925 62h1v1h-1zM925 63h1v1h-1zM924 64h1v1h-1zM923 65h1v1h-1zM922 66h1v1h-1zM922 67h1v1h-1zM921 68h1v1h-1zM920 69h1v1h-1zM919 70h1v1h-1zM919 71h1v1h-1zM918 72h1v1h-1zM917 73h1v1h-1zM916 74h1v1h-1zM914 75h2v1h-2zM913 76h1v1h-1zM912 77h1v1h-1zM910 78h2v1h-2zM909 79h1v1h-1zM908 80h1v1h-1zM907 81h1v1h-1zM905 82h2v1h-2zM904 83h1v1h-1zM903 84h1v1h-1zM902 85h1v1h-1zM900 86h2v1h-2zM899 87h1v1h-1zM898 88h1v1h-1zM896 89h2v1h-2zM895 90h1v1h-1zM894 91h1v1h-1zM893 92h1v1h-1zM891 93h2v1h-2zM890 94h1v1h-1zM889 95h1v1h-1zM888 96h1v1h-1zM886 97h2v1h-2zM885 98h1v1h-1zM884 99h1v1h-1zM882 100h2v1h-2zM881 101h1v1h-1zM880 102h1v1h-1zM879 103h1v1h-1zM877 104h2v1h-2zM876 105h1v1h-1zM875 106h1v1h-1zM875 107h1v1h-1zM874 108h1v1h-1zM874 109h1v1h-1zM874 110h1v1h-1zM873 111h1v1h-1zM873 112h1v1h-1zM873 113h1v1h-1zM872 114h1v1h-1zM872 115h1v1h-1zM872 116h1v1h-1zM872 117h1v1h-1zM871 118h1v1h-1zM871 119h1v1h-1zM871 120h1v1h-1zM870 121h1v1h-1zM870 122h1v1h-1zM870 123h1v1h-1zM869 124h1v1h-1zM869 125h1v1h-1zM869 126h1v1h-1zM868 127h1v1h-1zM868 128h1v1h-1zM868 129h1v1h-1zM867 130h1v1h-1zM867 131h1v1h-1zM867 132h1v1h-1zM866 133h1v1h-1zM866 134h1v1h-1zM866 135h1v1h-1zM865 136h1v1h-1zM865 137h1v1h-1zM865 138h1v1h-1zM865 139h1v1h-1zM864 140h1v1h-1zM864 141h1v1h-1zM864 142h1v1h-1zM863 143h1v1h-1zM863 144h1v1h-1zM863 145h1v1h-1zM862 146h1v1h-1zM862 147h1v1h-1zM862 148h1v1h-1zM861 149h1v1h-1zM861 150h1v1h-1zM861 151h1v1h-1zM860 152h1v1h-1zM860 153h1v1h-1zM860 154h1v1h-1zM859 155h1v1h-1zM859 156h1v1h-1zM859 157h1v1h-1zM858 158h1v1h-1zM858 159h1v1h-1zM858 160h1v1h-1zM858 161h1v1h-1zM857 162h1v1h-1zM857 163h1v1h-1zM857 164h1v1h-1zM856 165h1v1h-1zM856 166h1v1h-1zM856 167h1v1h-1zM855 168h1v1h-1zM855 169h1v1h-1zM855 170h1v1h-1zM854 171h1v1h-1zM854 172h1v1h-1zM854 173h1v1h-1zM853 174h1v1h-1zM853 175h1v1h-1zM853 176h1v1h-1zM852 177h1v1h-1zM852 178h1v1h-1zM852 179h1v1h-1zM851 180h1v1h-1zM851 181h1v1h-1zM851 182h1v1h-1zM851 183h1v1h-1zM850 184h1v1h-1zM850 185h1v1h-1zM850 186h1v1h-1zM849 187h1v1h-1zM849 188h1v1h-1zM849 189h1v1h-1zM848 190h1v1h-1zM848 191h1v1h-1zM848 192h1v1h-1zM847 193h1v1h-1zM847 194h1v1h-1zM847 195h1v1h-1zM846 196h1v1h-1zM846 197h1v1h-1zM846 198h1v1h-1zM845 199h1v1h-1zM845 200h1v1h-1zM845 201h1v1h-1zM844 202h1v1h-1zM844 203h1v1h-1zM844 204h1v1h-1zM844 205h1v1h-1zM843 206h1v1h-1zM843 207h1v1h-1zM843 208h1v1h-1zM842 209h1v1h-1zM842 210h1v1h-1zM842 211h1v1h-1zM841 212h1v1h-1zM841 213h1v1h-1zM841 214h1v1h-1zM840 215h1v1h-1zM840 216h1v1h-1zM840 217h1v1h-1zM839 218h1v1h-1zM839 219h1v1h-1zM839 220h1v1h-1zM838 221h1v1h-1zM838 222h1v1h-1zM838 223h1v1h-1zM837 224h1v1h-1zM837 225h1v1h-1zM837 226h1v1h-1zM837 227h1v1h-1zM836 228h1v1h-1zM836 229h1v1h-1zM836 230h1v1h-1zM835 231h1v1h-1zM835 232h1v1h-1zM835 233h1v1h-1zM834 234h1v1h-1zM833 235h2v1h-2zM831 236h2v1h-2zM829 237h2v1h-2zM827 238h2v1h-2zM825 239h2v1h-2zM823 240h2v1h-2zM821 241h2v1h-2zM819 242h2v1h-2zM817 243h2v1h-2zM815 244h2v1h-2zM813 245h2v1h-2zM811 246h2v1h-2zM809 247h2v1h-2zM807 248h2v1h-2zM805 249h2v1h-2zM803 250h2v1h-2zM801 251h2v1h-2zM799 252h2v1h-2zM797 253h2v1h-2zM795 254h2v1h-2zM792 255h3v1h-3zM789 256h3v1h-3zM786 257h3v1h-3zM782 258h4v1h-4zM779 259h3v1h-3zM776 260h3v1h-3zM773 261h3v1h-3zM770 262h3v1h-3zM767 263h3v1h-3zM764 264h3v1h-3zM760 265h4v1h-4zM757 266h3v1h-3zM754 267h3v1h-3zM752 268h2v1h-2zM750 269h2v1h-2zM749 270h1v1h-1zM747 271h2v1h-2zM746 272h1v1h-1zM745 273h1v1h-1zM743 274h2v1h-2zM742 275h1v1h-1zM740 276h2v1h-2zM739 277h1v1h-1zM737 278h2v1h-2zM736 279h1v1h-1zM734 280h2v1h-2zM733 281h1v1h-1zM731 282h2v1h-2zM730 283h1v1h-1zM729 284h1v1h-1zM727 285h2v1h-2zM726 286h1v1h-1zM724 287h2v1h-2zM723 288h1v1h-1zM721 289h2v1h-2zM720 290h1v1h-1zM718 291h2v1h-2zM717 292h1v1h-1zM716 293h1v1h-1zM714 294h2v1h-2zM713 295h1v1h-1zM711 296h2v1h-2zM710 297h1v1h-1zM710 298h1v1h-1zM709 299h1v1h-1zM709 300h1v1h-1zM709 301h1v1h-1zM708 302h1v1h-1zM708 303h1v1h-1zM708 304h1v1h-1zM707 305h1v1h-1zM707 306h1v1h-1zM707 307h1v1h-1zM706 308h1v1h-1zM706 309h1v1h-1zM706 310h1v1h-1zM705 311h1v1h-1zM705 312h1v1h-1zM705 313h1v1h-1zM705 314h1v1h-1zM704 315h1v1h-1zM704 316h1v1h-1zM704 317h1v1h-1zM703 318h1v1h-1zM703 319h1v1h-1zM703 320h1v1h-1zM702 321h1v1h-1zM702 322h1v1h-1zM702 323h1v1h-1zM701 324h1v1h-1zM701 325h1v1h-1zM701 326h1v1h-1zM700 327h1v1h-1zM700 328h1v1h-1zM700 329h1v1h-1zM699 330h1v1h-1zM699 331h1v1h-1zM699 332h1v1h-1zM698 333h1v1h-1zM698 334h1v1h-1zM698 335h1v1h-1zM697 336h1v1h-1zM697 337h1v1h-1zM697 338h1v1h-1zM696 339h1v1h-1zM696 340h1v1h-1zM696 341h1v1h-1zM695 342h1v1h-1zM695 343h1v1h-1zM695 344h1v1h-1zM695 345h1v1h-1zM694 346h1v1h-1zM694 347h1v1h-1zM694 348h1v1h-1zM693 349h1v1h-1zM693 350h1v1h-1zM693 351h1v1h-1zM692 352h1v1h-1zM692 353h1v1h-1zM692 354h1v1h-1zM691 355h1v1h-1zM691 356h1v1h-1zM691 357h1v1h-1zM690 358h1v1h-1zM690 359h1v1h-1zM690 360h1v1h-1zM689 361h1v1h-1zM689 362h1v1h-1zM689 363h1v1h-1zM688 364h1v1h-1zM688 365h1v1h-1zM688 366h1v1h-1zM687 367h1v1h-1zM687 368h1v1h-1zM687 369h1v1h-1zM686 370h1v1h-1zM686 371h1v1h-1zM686 372h1v1h-1zM685 373h1v1h-1zM685 374h1v1h-1zM685 375h1v1h-1zM684 376h1v1h-1zM684 377h1v1h-1zM684 378h1v1h-1zM684 379h1v1h-1zM683 380h1v1h-1zM683 381h1v1h-1zM683 382h1v1h-1zM682 383h1v1h-1zM682 384h1v1h-1zM682 385h1v1h-1zM681 386h1v1h-1zM681 387h1v1h-1zM681 388h1v1h-1zM680 389h1v1h-1zM680 390h1v1h-1zM680 391h1v1h-1zM679 392h1v1h-1zM679 393h1v1h-1zM679 394h1v1h-1zM678 395h1v1h-1zM678 396h1v1h-1zM678 397h1v1h-1zM677 398h1v1h-1zM677 399h1v1h-1zM677 400h1v1h-1zM676 401h1v1h-1zM676 402h1v1h-1zM676 403h1v1h-1zM675 404h1v1h-1zM675 405h1v1h-1zM675 406h1v1h-1zM674 407h1v1h-1zM674 408h1v1h-1zM674 409h1v1h-1zM674 410h1v1h-1zM673 411h1v1h-1zM673 412h1v1h-1zM673 413h1v1h-1zM672 414h1v1h-1zM672 415h1v1h-1zM672 416h1v1h-1zM671 417h1v1h-1zM671 418h1v1h-1zM671 419h1v1h-1zM670 420h1v1h-1zM670 421h1v1h-1zM670 422h1v1h-1zM669 423h1v1h-1zM668 424h2v1h-2zM666 425h2v1h-2zM664 426h2v1h-2zM662 427h2v1h-2zM659 428h3v1h-3zM657 429h2v1h-2zM655 430h2v1h-2zM652 431h3v1h-3zM650 432h2v1h-2zM648 433h2v1h-2zM646 434h2v1h-2zM643 435h3v1h-3zM641 436h2v1h-2zM639 437h2v1h-2zM636 438h3v1h-3zM634 439h2v1h-2zM632 440h2v1h-2zM630 441h2v1h-2zM627 442h3v1h-3zM624 443h3v1h-3zM621 444h3v1h-3zM618 445h3v1h-3zM615 446h3v1h-3zM612 447h3v1h-3zM609 448h3v1h-3zM607 449h2v1h-2zM604 450h3v1h-3zM601 451h3v1h-3zM598 452h3v1h-3zM595 453h3v1h-3zM592 454h3v1h-3zM589 455h3v1h-3zM585 456h4v1h-4zM579 457h6v1h-6zM573 458h6v1h-6zM567 459h6v1h-6zM561 460h6v1h-6zM555 461h6v1h-6zM549 462h6v1h-6zM503 463h46v1h-46zM501 464h2v1h-2zM499 465h2v1h-2zM497 466h2v1h-2zM494 467h3v1h-3zM492 468h2v1h-2zM490 469h2v1h-2zM487 470h3v1h-3zM485 471h2v1h-2zM483 472h2v1h-2zM481 473h2v1h-2zM478 474h3v1h-3zM476 475h2v1h-2zM474 476h2v1h-2zM471 477h3v1h-3zM469 478h2v1h-2zM467 479h2v1h-2zM465 480h2v1h-2zM462 481h3v1h-3zM460 482h2v1h-2zM458 483h2v1h-2zM456 484h2v1h-2zM453 485h3v1h-3zM451 486h2v1h-2zM449 487h2v1h-2zM446 488h3v1h-3zM444 489h2v1h-2zM442 490h2v1h-2zM440 491h2v1h-2zM437 492h3v1h-3zM435 493h2v1h-2zM433 494h2v1h-2zM430 495h3v1h-3zM428 496h2v1h-2zM426 497h2v1h-2zM424 498h2v1h-2zM421 499h3v1h-3zM419 500h2v1h-2zM417 501h2v1h-2zM415 502h2v1h-2zM413 503h2v1h-2zM411 504h2v1h-2zM408 505h3v1h-3zM406 506h2v1h-2zM404 507h2v1h-2zM402 508h2v1h-2zM400 509h2v1h-2zM398 510h2v1h-2zM396 511h2v1h-2zM393 512h3v1h-3zM391 513h2v1h-2zM389 514h2v1h-2zM387 515h2v1h-2zM385 516h2v1h-2zM383 517h2v1h-2zM379 518h4v1h-4zM375 519h4v1h-4zM370 520h5v1h-5zM366 521h4v1h-4zM361 522h5v1h-5zM356 523h5v1h-5zM352 524h4v1h-4zM347 525h5v1h-5zM343 526h4v1h-4zM338 527h5v1h-5zM333 528h5v1h-5zM327 529h6v1h-6zM322 530h5v1h-5zM317 531h5v1h-5zM312 532h5v1h-5zM306 533h6v1h-6zM301 534h5v1h-5zM297 535h4v1h-4zM295 536h2v1h-2zM293 537h2v1h-2zM291 538h2v1h-2zM289 539h2v1h-2zM287 540h2v1h-2zM284 541h3v1h-3zM282 542h2v1h-2zM280 543h2v1h-2zM278 544h2v1h-2zM92 545h104v1h-104zM276 545h2v1h-2zM196 546h23v1h-23zM274 546h2v1h-2zM219 547h5v1h-5zM272 547h2v1h-2zM224 548h5v1h-5zM269 548h3v1h-3zM229 549h5v1h-5zM267 549h2v1h-2zM234 550h6v1h-6zM265 550h2v1h-2zM240 551h5v1h-5zM263 551h2v1h-2zM245 552h5v1h-5zM261 552h2v1h-2zM250 553h5v1h-5zM259 553h2v1h-2zM255 554h4v1h-4z" fill="#808000"/>
<path d="M90 544h5v5h-5zM89 546h7v1h-7zM92 543h1v7h-1zM131 544h5v5h-5zM130 546h7v1h-7zM133 543h1v7h-1zM173 544h5v5h-5zM172 546h7v1h-7zM175 543h1v7h-1zM214 545h5v5h-5zM213 547h7v1h-7zM216 544h1v7h-1zM255 553h5v5h-5zM254 555h7v1h-7zM257 552h1v7h-1zM296 534h5v5h-5zM295 536h7v1h-7zM298 533h1v7h-1zM338 526h5v5h-5zM337 528h7v1h-7zM340 525h1v7h-1zM379 517h5v5h-5zM378 519h7v1h-7zM381 516h1v7h-1zM420 498h5v5h-5zM419 500h7v1h-7zM422 497h1v7h-1zM461 480h5v5h-5zM460 482h7v1h-7zM463 479h1v7h-1zM502 462h5v5h-5zM501 464h7v1h-7zM504 461h1v7h-1zM544 462h5v5h-5zM543 464h7v1h-7zM546 461h1v7h-1zM585 455h5v5h-5zM584 457h7v1h-7zM587 454h1v7h-1zM626 441h5v5h-5zM625 443h7v1h-7zM628 440h1v7h-1zM667 423h5v5h-5zM666 425h7v1h-7zM669 422h1v7h-1zM708 296h5v5h-5zM707 298h7v1h-7zM710 295h1v7h-1zM750 267h5v5h-5zM749 269h7v1h-7zM752 266h1v7h-1zM791 254h5v5h-5zM790 256h7v1h-7zM793 253h1v7h-1zM832 234h5v5h-5zM831 236h7v1h-7zM834 233h1v7h-1zM873 105h5v5h-5zM872 107h7v1h-7zM875 104h1v7h-1zM915 72h5v5h-5zM914 74h7v1h-7zM917 71h1v7h-1zM956 18h5v5h-5zM955 20h7v1h-7zM958 17h1v7h-1z" fill="#808000"/>
<path d="M958 59h1v1h-1zM957 60h1v1h-1zM957 61h1v1h-1zM956 62h1v1h-1zM955 63h1v1h-1zM955 64h1v1h-1zM954 65h1v1h-1zM953 66h1v1h-1zM953 67h1v1h-1zM952 68h1v1h-1zM951 69h1v1h-1zM951 70h1v1h-1zM950 71h1v1h-1zM949 72h1v1h-1zM949 73h1v1h-1zM948 74h1v1h-1zM947 75h1v1h-1zM947 76h1v1h-1zM946 77h1v1h-1zM945 78h1v1h-1zM945 79h1v1h-1zM944 80h1v1h-1zM943 81h1v1h-1zM943 82h1v1h-1zM942 83h1v1h-1zM941 84h1v1h-1zM941 85h1v1h-1zM940 86h1v1h-1zM939 87h1v1h-1zM939 88h1v1h-1zM938 89h1v1h-1zM937 90h1v1h-1zM937 91h1v1h-1zM936 92h1v1h-1zM936 93h1v1h-1zM935 94h1v1h-1zM934 95h1v1h-1zM934 96h1v1h-1zM933 97h1v1h-1zM932 98h1v1h-1zM932 99h1v1h-1zM931 100h1v1h-1zM930 101h1v1h-1zM930 102h1v1h-1zM929 103h1v1h-1zM928 104h1v1h-1zM928 105h1v1h-1zM927 106h1v1h-1zM926 107h1v1h-1zM926 108h1v1h-1zM925 109h1v1h-1zM924 110h1v1h-1zM924 111h1v1h-1zM923 112h1v1h-1zM922 113h1v1h-1zM922 114h1v1h-1zM921 115h1v1h-1zM920 116h1v1h-1zM920 117h1v1h-1zM919 118h1v1h-1zM918 119h1v1h-1zM918 120h1v1h-1zM875 121h43v1h-43zM874 122h1v1h-1zM874 123h1v1h-1zM873 124h1v1h-1zM872 125h1v1h-1zM871 126h1v1h-1zM871 127h1v1h-1zM870 128h1v1h-1zM869 129h1v1h-1zM868 130h1v1h-1zM868 131h1v1h-1zM867 132h1v1h-1zM866 133h1v1h-1zM865 134h1v1h-1zM865 135h1v1h-1zM864 136h1v1h-1zM863 137h1v1h-1zM863 138h1v1h-1zM862 139h1v1h-1zM861 140h1v1h-1zM860 141h1v1h-1zM860 142h1v1h-1zM859 143h1v1h-1zM858 144h1v1h-1zM857 145h1v1h-1zM857 146h1v1h-1zM856 147h1v1h-1zM855 148h1v1h-1zM854 149h1v1h-1zM854 150h1v1h-1zM853 151h1v1h-1zM852 152h1v1h-1zM852 153h1v1h-1zM851 154h1v1h-1zM850 155h1v1h-1zM849 156h1v1h-1zM849 157h1v1h-1zM848 158h1v1h-1zM847 159h1v1h-1zM846 160h1v1h-1zM846 161h1v1h-1zM845 162h1v1h-1zM844 163h1v1h-1zM844 164h1v1h-1zM843 165h1v1h-1zM842 166h1v1h-1zM841 167h1v1h-1zM841 168h1v1h-1zM840 169h1v1h-1zM839 170h1v1h-1zM838 171h1v1h-1zM838 172h1v1h-1zM837 173h1v1h-1zM836 174h1v1h-1zM835 175h1v1h-1zM835 176h1v1h-1zM793 177h42v1h-42zM793 178h1v1h-1zM792 179h1v1h-1zM792 180h1v1h-1zM791 181h1v1h-1zM791 182h1v1h-1zM791 183h1v1h-1zM790 184h1v1h-1zM790 185h1v1h-1zM789 186h1v1h-1zM789 187h1v1h-1zM788 188h1v1h-1zM788 189h1v1h-1zM788 190h1v1h-1zM787 191h1v1h-1zM787 192h1v1h-1zM786 193h1v1h-1zM786 194h1v1h-1zM786 195h1v1h-1zM785 196h1v1h-1zM785 197h1v1h-1zM784 198h1v1h-1zM784 199h1v1h-1zM783 200h1v1h-1zM783 201h1v1h-1zM783 202h1v1h-1zM782 203h1v1h-1zM782 204h1v1h-1zM781 205h1v1h-1zM781 206h1v1h-1zM781 207h1v1h-1zM780 208h1v1h-1zM780 209h1v1h-1zM779 210h1v1h-1zM779 211h1v1h-1zM779 212h1v1h-1zM778 213h1v1h-1zM778 214h1v1h-1zM777 215h1v1h-1zM777 216h1v1h-1zM776 217h1v1h-1zM776 218h1v1h-1zM776 219h1v1h-1zM775 220h1v1h-1zM775 221h1v1h-1zM774 222h1v1h-1zM774 223h1v1h-1zM774 224h1v1h-1zM773 225h1v1h-1zM773 226h1v1h-1zM772 227h1v1h-1zM772 228h1v1h-1zM771 229h1v1h-1zM771 230h1v1h-1zM771 231h1v1h-1zM770 232h1v1h-1zM770 233h1v1h-1zM769 234h1v1h-1zM769 235h1v1h-1zM769 236h1v1h-1zM768 237h1v1h-1zM768 238h1v1h-1zM767 239h1v1h-1zM767 240h1v1h-1zM766 241h1v1h-1zM766 242h1v1h-1zM766 243h1v1h-1zM765 244h1v1h-1zM765 245h1v1h-1zM764 246h1v1h-1zM764 247h1v1h-1zM764 248h1v1h-1zM763 249h1v1h-1zM763 250h1v1h-1zM762 251h1v1h-1zM762 252h1v1h-1zM762 253h1v1h-1zM761 254h1v1h-1zM761 255h1v1h-1zM760 256h1v1h-1zM760 257h1v1h-1zM759 258h1v1h-1zM759 259h1v1h-1zM759 260h1v1h-1zM758 261h1v1h-1zM758 262h1v1h-1zM757 263h1v1h-1zM757 264h1v1h-1zM757 265h1v1h-1zM756 266h1v1h-1zM756 267h1v1h-1zM755 268h1v1h-1zM755 269h1v1h-1zM754 270h1v1h-1zM754 271h1v1h-1zM754 272h1v1h-1zM753 273h1v1h-1zM753 274h1v1h-1zM752 275h1v1h-1zM752 276h1v1h-1zM750 277h2v1h-2zM749 278h1v1h-1zM747 279h2v1h-2zM746 280h1v1h-1zM744 281h2v1h-2zM743 282h1v1h-1zM741 283h2v1h-2zM740 284h1v1h-1zM738 285h2v1h-2zM737 286h1v1h-1zM735 287h2v1h-2zM734 288h1v1h-1zM732 289h2v1h-2zM731 290h1v1h-1zM729 291h2v1h-2zM728 292h1v1h-1zM726 293h2v1h-2zM725 294h1v1h-1zM723 295h2v1h-2zM722 296h1v1h-1zM720 297h2v1h-2zM719 298h1v1h-1zM717 299h2v1h-2zM716 300h1v1h-1zM714 301h2v1h-2zM713 302h1v1h-1zM711 303h2v1h-2zM710 304h1v1h-1zM710 305h1v1h-1zM709 306h1v1h-1zM709 307h1v1h-1zM709 308h1v1h-1zM708 309h1v1h-1zM708 310h1v1h-1zM708 311h1v1h-1zM708 312h1v1h-1zM707 313h1v1h-1zM707 314h1v1h-1zM707 315h1v1h-1zM706 316h1v1h-1zM706 317h1v1h-1zM706 318h1v1h-1zM705 319h1v1h-1zM705 320h1v1h-1zM705 321h1v1h-1zM704 322h1v1h-1zM704 323h1v1h-1zM704 324h1v1h-1zM704 325h1v1h-1zM703 326h1v1h-1zM703 327h1v1h-1zM703 328h1v1h-1zM702 329h1v1h-1zM702 330h1v1h-1zM702 331h1v1h-1zM701 332h1v1h-1zM701 333h1v1h-1zM701 334h1v1h-1zM700 335h1v1h-1zM700 336h1v1h-1zM700 337h1v1h-1zM700 338h1v1h-1zM699 339h1v1h-1zM699 340h1v1h-1zM699 341h1v1h-1zM698 342h1v1h-1zM698 343h1v1h-1zM698 344h1v1h-1zM697 345h1v1h-1zM697 346h1v1h-1zM697 347h1v1h-1zM696 348h1v1h-1zM696 349h1v1h-1zM696 350h1v1h-1zM696 351h1v1h-1zM695 352h1v1h-1zM695 353h1v1h-1zM695 354h1v1h-1zM694 355h1v1h-1zM694 356h1v1h-1zM694 357h1v1h-1zM693 358h1v1h-1zM693 359h1v1h-1zM693 360h1v1h-1zM692 361h1v1h-1zM692 362h1v1h-1zM692 363h1v1h-1zM692 364h1v1h-1zM691 365h1v1h-1zM691 366h1v1h-1zM691 367h1v1h-1zM690 368h1v1h-1zM690 369h1v1h-1zM690 370h1v1h-1zM689 371h1v1h-1zM689 372h1v1h-1zM689 373h1v1h-1zM688 374h1v1h-1zM688 375h1v1h-1zM688 376h1v1h-1zM687 377h1v1h-1zM687 378h1v1h-1zM687 379h1v1h-1zM687 380h1v1h-1zM686 381h1v1h-1zM686 382h1v1h-1zM686 383h1v1h-1zM685 384h1v1h-1zM685 385h1v1h-1zM685 386h1v1h-1zM684 387h1v1h-1zM684 388h1v1h-1zM684 389h1v1h-1zM683 390h1v1h-1zM683 391h1v1h-1zM683 392h1v1h-1zM683 393h1v1h-1zM682 394h1v1h-1zM682 395h1v1h-1zM682 396h1v1h-1zM681 397h1v1h-1zM681 398h1v1h-1zM681 399h1v1h-1zM680 400h1v1h-1zM680 401h1v1h-1zM680 402h1v1h-1zM679 403h1v1h-1zM679 404h1v1h-1zM679 405h1v1h-1zM679 406h1v1h-1zM678 407h1v1h-1zM678 408h1v1h-1zM678 409h1v1h-1zM677 410h1v1h-1zM677 411h1v1h-1zM677 412h1v1h-1zM676 413h1v1h-1zM676 414h1v1h-1zM676 415h1v1h-1zM675 416h1v1h-1zM675 417h1v1h-1zM675 418h1v1h-1zM675 419h1v1h-1zM674 420h1v1h-1zM674 421h1v1h-1zM674 422h1v1h-1zM673 423h1v1h-1zM673 424h1v1h-1zM673 425h1v1h-1zM672 426h1v1h-1zM672 427h1v1h-1zM672 428h1v1h-1zM671 429h1v1h-1zM671 430h1v1h-1zM671 431h1v1h-1zM671 432h1v1h-1zM670 433h1v1h-1zM670 434h1v1h-1zM670 435h1v1h-1zM669 436h1v1h-1zM668 437h2v1h-2zM666 438h2v1h-2zM664 439h2v1h-2zM662 440h2v1h-2zM659 441h3v1h-3zM657 442h2v1h-2zM655 443h2v1h-2zM652 444h3v1h-3zM650 445h2v1h-2zM648 446h2v1h-2zM646 447h2v1h-2zM643 448h3v1h-3zM641 449h2v1h-2zM639 450h2v1h-2zM636 451h3v1h-3zM634 452h2v1h-2zM632 453h2v1h-2zM630 454h2v1h-2zM627 455h3v1h-3zM624 456h3v1h-3zM621 457h3v1h-3zM618 458h3v1h-3zM615 459h3v1h-3zM612 460h3v1h-3zM609 461h3v1h-3zM607 462h2v1h-2zM604 463h3v1h-3zM601 464h3v1h-3zM598 465h3v1h-3zM595 466h3v1h-3zM592 467h3v1h-3zM589 468h3v1h-3zM586 469h3v1h-3zM583 470h3v1h-3zM581 471h2v1h-2zM578 472h3v1h-3zM575 473h3v1h-3zM572 474h3v1h-3zM570 475h2v1h-2zM567 476h3v1h-3zM564 477h3v1h-3zM562 478h2v1h-2zM559 479h3v1h-3zM556 480h3v1h-3zM553 481h3v1h-3zM551 482h2v1h-2zM548 483h3v1h-3zM545 484h3v1h-3zM542 485h3v1h-3zM538 486h4v1h-4zM535 487h3v1h-3zM532 488h3v1h-3zM529 489h3v1h-3zM525 490h4v1h-4zM522 491h3v1h-3zM519 492h3v1h-3zM516 493h3v1h-3zM513 494h3v1h-3zM509 495h4v1h-4zM506 496h3v1h-3zM503 497h3v1h-3zM499 498h4v1h-4zM495 499h4v1h-4zM491 500h4v1h-4zM488 501h3v1h-3zM484 502h4v1h-4zM480 503h4v1h-4zM477 504h3v1h-3zM473 505h4v1h-4zM469 506h4v1h-4zM465 507h4v1h-4zM462 508h3v1h-3zM458 509h4v1h-4zM454 510h4v1h-4zM450 511h4v1h-4zM447 512h3v1h-3zM443 513h4v1h-4zM439 514h4v1h-4zM436 515h3v1h-3zM432 516h4v1h-4zM428 517h4v1h-4zM424 518h4v1h-4zM421 519h3v1h-3zM418 520h3v1h-3zM415 521h3v1h-3zM411 522h4v1h-4zM408 523h3v1h-3zM405 524h3v1h-3zM402 525h3v1h-3zM399 526h3v1h-3zM396 527h3v1h-3zM393 528h3v1h-3zM389 529h4v1h-4zM386 530h3v1h-3zM383 531h3v1h-3zM379 532h4v1h-4zM375 533h4v1h-4zM371 534h4v1h-4zM367 535h4v1h-4zM363 536h4v1h-4zM359 537h4v1h-4zM355 538h4v1h-4zM351 539h4v1h-4zM347 540h4v1h-4zM343 541h4v1h-4zM338 542h5v1h-5zM333 543h5v1h-5zM327 544h6v1h-6zM322 545h5v1h-5zM317 546h5v1h-5zM312 547h5v1h-5zM306 548h6v1h-6zM301 549h5v1h-5zM92 550h44v1h-44zM297 550h4v1h-4zM136 551h4v1h-4zM295 551h2v1h-2zM140 552h4v1h-4zM293 552h2v1h-2zM144 553h4v1h-4zM291 553h2v1h-2zM148 554h4v1h-4zM289 554h2v1h-2zM152 555h5v1h-5zM287 555h2v1h-2zM157 556h4v1h-4zM285 556h2v1h-2zM161 557h4v1h-4zM283 557h2v1h-2zM165 558h4v1h-4zM281 558h2v1h-2zM169 559h4v1h-4zM279 559h2v1h-2zM173 560h46v1h-46zM277 560h2v1h-2zM219 561h4v1h-4zM275 561h2v1h-2zM223 562h4v1h-4zM273 562h2v1h-2zM227 563h4v1h-4zM271 563h2v1h-2zM231 564h4v1h-4zM269 564h2v1h-2zM235 565h4v1h-4zM267 565h2v1h-2zM239 566h4v1h-4zM265 566h2v1h-2zM243 567h4v1h-4zM263 567h2v1h-2zM247 568h4v1h-4zM261 568h2v1h-2zM251 569h4v1h-4zM259 569h2v1h-2zM255 570h4v1h-4z" fill="#ff00ff"/>
<path d="M90 549h5v5h-5zM89 551h7v1h-7zM92 548h1v7h-1zM131 549h5v5h-5zM130 551h7v1h-7zM133 548h1v7h-1zM173 559h5v5h-5zM172 561h7v1h-7zM175 558h1v7h-1zM214 559h5v5h-5zM213 561h7v1h-7zM216 558h1v7h-1zM255 569h5v5h-5zM254 571h7v1h-7zM257 568h1v7h-1zM296 549h5v5h-5zM295 551h7v1h-7zM298 548h1v7h-1zM338 541h5v5h-5zM337 543h7v1h-7zM340 540h1v7h-1zM379 531h5v5h-5zM378 533h7v1h-7zM381 530h1v7h-1zM420 518h5v5h-5zM419 520h7v1h-7zM422 517h1v7h-1zM461 507h5v5h-5zM460 509h7v1h-7zM463 506h1v7h-1zM502 496h5v5h-5zM501 498h7v1h-7zM504 495h1v7h-1zM544 483h5v5h-5zM543 485h7v1h-7zM546 482h1v7h-1zM585 468h5v5h-5zM584 470h7v1h-7zM587 467h1v7h-1zM626 454h5v5h-5zM625 456h7v1h-7zM628 453h1v7h-1zM667 436h5v5h-5zM666 438h7v1h-7zM669 435h1v7h-1zM708 303h5v5h-5zM707 305h7v1h-7zM710 302h1v7h-1zM750 275h5v5h-5zM749 277h7v1h-7zM752 274h1v7h-1zM791 176h5v5h-5zM790 178h7v1h-7zM793 175h1v7h-1zM832 176h5v5h-5zM831 178h7v1h-7zM834 175h1v7h-1zM873 120h5v5h-5zM872 122h7v1h-7zM875 119h1v7h-1zM915 120h5v5h-5zM914 122h7v1h-7zM917 119h1v7h-1zM956 58h5v5h-5zM955 60h7v1h-7zM958 57h1v7h-1z" fill="#ff00ff"/>
<g fill="#000080"><use href="#g1" xlink:href="#g1" x="77" y="535"/><use href="#g3" xlink:href="#g3" x="82" y="535"/><use href="#g6" xlink:href="#g6" x="87" y="535"/><use href="#g2" xlink:href="#g2" x="92" y="535"/><use href="#g7" xlink:href="#g7" x="97" y="535"/><use href="#g0" xlink:href="#g0" x="102" y="535"/><use href="#g1" xlink:href="#g1" x="118" y="535"/><use href="#g3" xlink:href="#g3" x="123" y="535"/><use href="#g6" xlink:href="#g6" x="128" y="535"/><use href="#g2" xlink:href="#g2" x="133" y="535"/><use href="#g7" xlink:href="#g7" x="138" y="535"/><use href="#g0" xlink:href="#g0" x="143" y="535"/><use href="#g1" xlink:href="#g1" x="160" y="550"/><use href="#g3" xlink:href="#g3" x="165" y="550"/><use href="#g3" xlink:href="#g3" x="170" y="550"/><use href="#g0" xlink:href="#g0" x="175" y="550"/><use href="#g2" xlink:href="#g2" x="180" y="550"/><use href="#g6" xlink:href="#g6" x="185" y="550"/><use href="#g1" xlink:href="#g1" x="201" y="550"/><use href="#g3" xlink:href="#g3" x="206" y="550"/><use href="#g3" xlink:href="#g3" x="211" y="550"/><use href="#g0" xlink:href="#g0" x="216" y="550"/><use href="#g2" xlink:href="#g2" x="221" y="550"/><use href="#g6" xlink:href="#g6" x="226" y="550"/><use href="#g1" xlink:href="#g1" x="242" y="556"/><use href="#g3" xlink:href="#g3" x="247" y="556"/><use href="#g1" xlink:href="#g1" x="252" y="556"/><use href="#g9" xlink:href="#g9" x="257" y="556"/><use href="#g8" xlink:href="#g8" x="262" y="556"/><use href="#g4" xlink:href="#g4" x="267" y="556"/><use href="#g1" xlink:href="#g1" x="283" y="537"/><use href="#g3" xlink:href="#g3" x="288" y="537"/><use href="#g6" xlink:href="#g6" x="293" y="537"/><use href="#g2" xlink:href="#g2" x="298" y="537"/><use href="#g2" xlink:href="#g2" x="303" y="537"/><use href="#g6" xlink:href="#g6" x="308" y="537"/><use href="#g1" xlink:href="#g1" x="325" y="529"/><use href="#g3" xlink:href="#g3" x="330" y="529"/><use href="#g7" xlink:href="#g7" x="335" y="529"/><use href="#g8" xlink:href="#g8" x="340" y="529"/><use href="#g6" xlink:href="#g6" x="345" y="529"/><use href="#g9" xlink:href="#g9" x="350" y="529"/><use href="#g1" xlink:href="#g1" x="366" y="525"/><use href="#g3" xlink:href="#g3" x="371" y="525"/><use href="#g8" xlink:href="#g8" x="376" y="525"/><use href="#g3" xlink:href="#g3" x="381" y="525"/><use href="#g0" xlink:href="#g0" x="386" y="525"/><use href="#g1" xlink:href="#g1" x="391" y="525"/><use href="#g1" xlink:href="#g1" x="407" y="485"/><use href="#g4" xlink:href="#g4" x="412" y="485"/><use href="#g6" xlink:href="#g6" x="417" y="485"/><use href="#g5" xlink:href="#g5" x="422" y="485"/><use href="#g6" xlink:href="#g6" x="427" y="485"/><use href="#g3" xlink:href="#g3" x="432" y="485"/><use href="#g1" xlink:href="#g1" x="448" y="467"/><use href="#g5" xlink:href="#g5" x="453" y="467"/><use href="#g0" xlink:href="#g0" x="458" y="467"/><use href="#g5" xlink:href="#g5" x="463" y="467"/><use href="#g7" xlink:href="#g7" x="468" y="467"/><use href="#g9" xlink:href="#g9" x="473" y="467"/><use href="#g1" xlink:href="#g1" x="489" y="447"/><use href="#g5" xlink:href="#g5" x="494" y="447"/><use href="#g4" xlink:href="#g4" x="499" y="447"/><use href="#g0" xlink:href="#g0" x="504" y="447"/><use href="#g9" xlink:href="#g9" x="509" y="447"/><use href="#g5" xlink:href="#g5" x="514" y="447"/><use href="#g1" xlink:href="#g1" x="531" y="433"/><use href="#g5" xlink:href="#g5" x="536" y="433"/><use href="#g7" xlink:href="#g7" x="541" y="433"/><use href="#g0" xlink:href="#g0" x="546" y="433"/><use href="#g9" xlink:href="#g9" x="551" y="433"/><use href="#g6" xlink:href="#g6" x="556" y="433"/><use href="#g1" xlink:href="#g1" x="572" y="417"/><use href="#g6" xlink:href="#g6" x="577" y="417"/><use href="#g1" xlink:href="#g1" x="582" y="417"/><use href="#g1" xlink:href="#g1" x="587" y="417"/><use href="#g8" xlink:href="#g8" x="592" y="417"/><use href="#g0" xlink:href="#g0" x="597" y="417"/><use href="#g1" xlink:href="#g1" x="613" y="399"/><use href="#g6" xlink:href="#g6" x="618" y="399"/><use href="#g4" xlink:href="#g4" x="623" y="399"/><use href="#g9" xlink:href="#g9" x="628" y="399"/><use href="#g5" xlink:href="#g5" x="633" y="399"/><use href="#g5" xlink:href="#g5" x="638" y="399"/><use href="#g1" xlink:href="#g1" x="654" y="266"/><use href="#g9" xlink:href="#g9" x="659" y="266"/><use href="#g2" xlink:href="#g2" x="664" y="266"/><use href="#g8" xlink:href="#g8" x="669" y="266"/><use href="#g7" xlink:href="#g7" x="674" y="266"/><use href="#g3" xlink:href="#g3" x="679" y="266"/><use href="#g1" xlink:href="#g1" x="695" y="238"/><use href="#g9" xlink:href="#g9" x="700" y="238"/><use href="#g8" xlink:href="#g8" x="705" y="238"/><use href="#g8" xlink:href="#g8" x="710" y="238"/><use href="#g3" xlink:href="#g3" x="715" y="238"/><use href="#g3" xlink:href="#g3" x="720" y="238"/><use href="#g2" xlink:href="#g2" x="737" y="224"/><use href="#g0" xlink:href="#g0" x="742" y="224"/><use href="#g1" xlink:href="#g1" x="747" y="224"/><use href="#g6" xlink:href="#g6" x="752" y="224"/><use href="#g4" xlink:href="#g4" x="757" y="224"/><use href="#g6" xlink:href="#g6" x="762" y="224"/><use href="#g2" xlink:href="#g2" x="778" y="223"/><use href="#g0" xlink:href="#g0" x="783" y="223"/><use href="#g1" xlink:href="#g1" x="788" y="223"/><use href="#g9" xlink:href="#g9" x="793" y="223"/><use href="#g3" xlink:href="#g3" x="798" y="223"/><use href="#g3" xlink:href="#g3" x="803" y="223"/><use href="#g2" xlink:href="#g2" x="819" y="206"/><use href="#g0" xlink:href="#g0" x="824" y="206"/><use href="#g5" xlink:href="#g5" x="829" y="206"/><use href="#g5" xlink:href="#g5" x="834" y="206"/><use href="#g6" xlink:href="#g6" x="839" y="206"/><use href="#g9" xlink:href="#g9" x="844" y="206"/><use href="#g2" xlink:href="#g2" x="860" y="206"/><use href="#g0" xlink:href="#g0" x="865" y="206"/><use href="#g5" xlink:href="#g5" x="870" y="206"/><use href="#g5" xlink:href="#g5" x="875" y="206"/><use href="#g6" xlink:href="#g6" x="880" y="206"/><use href="#g9" xlink:href="#g9" x="885" y="206"/><use href="#g2" xlink:href="#g2" x="902" y="135"/><use href="#g2" xlink:href="#g2" x="907" y="135"/><use href="#g0" xlink:href="#g0" x="912" y="135"/><use href="#g4" xlink:href="#g4" x="917" y="135"/><use href="#g7" xlink:href="#g7" x="922" y="135"/><use href="#g4" xlink:href="#g4" x="927" y="135"/><use href="#g2" xlink:href="#g2" x="943" y="104"/><use href="#g2" xlink:href="#g2" x="948" y="104"/><use href="#g7" xlink:href="#g7" x="953" y="104"/><use href="#g0" xlink:href="#g0" x="958" y="104"/><use href="#g8" xlink:href="#g8" x="963" y="104"/><use href="#g5" xlink:href="#g5" x="968" y="104"/><use href="#g1" xlink:href="#g1" x="77" y="533"/><use href="#g3" xlink:href="#g3" x="82" y="533"/><use href="#g6" xlink:href="#g6" x="87" y="533"/><use href="#g6" xlink:href="#g6" x="92" y="533"/><use href="#g1" xlink:href="#g1" x="97" y="533"/><use href="#g1" xlink:href="#g1" x="102" y="533"/><use href="#g1" xlink:href="#g1" x="118" y="533"/><use href="#g3" xlink:href="#g3" x="123" y="533"/><use href="#g6" xlink:href="#g6" x="128" y="533"/><use href="#g6" xlink:href="#g6" x="133" y="533"/><use href="#g1" xlink:href="#g1" x="138" y="533"/><use href="#g1" xlink:href="#g1" x="143" y="533"/><use href="#g1" xlink:href="#g1" x="160" y="533"/><use href="#g3" xlink:href="#g3" x="165" y="533"/><use href="#g6" xlink:href="#g6" x="170" y="533"/><use href="#g6" xlink:href="#g6" x="175" y="533"/><use href="#g1" xlink:href="#g1" x="180" y="533"/><use href="#g1" xlink:href="#g1" x="185" y="533"/><use href="#g1" xlink:href="#g1" x="201" y="533"/><use href="#g3" xlink:href="#g3" x="206" y="533"/><use href="#g6" xlink:href="#g6" x="211" y="533"/><use href="#g6" xlink:href="#g6" x="216" y="533"/><use href="#g9" xlink:href="#g9" x="221" y="533"/><use href="#g0" xlink:href="#g0" x="226" y="533"/><use href="#g1" xlink:href="#g1" x="242" y="558"/><use href="#g3" xlink:href="#g3" x="247" y="558"/><use href="#g1" xlink:href="#g1" x="252" y="558"/><use href="#g9" xlink:href="#g9" x="257" y="558"/><use href="#g6" xlink:href="#g6" x="262" y="558"/><use href="#g4" xlink:href="#g4" x="267" y="558"/><use href="#g1" xlink:href="#g1" x="283" y="526"/><use href="#g3" xlink:href="#g3" x="288" y="526"/><use href="#g8" xlink:href="#g8" x="293" y="526"/><use href="#g4" xlink:href="#g4" x="298" y="526"/><use href="#g7" xlink:href="#g7" x="303" y="526"/><use href="#g4" xlink:href="#g4" x="308" y="526"/><use href="#g1" xlink:href="#g1" x="325" y="520"/><use href="#g3" xlink:href="#g3" x="330" y="520"/><use href="#g9" xlink:href="#g9" x="335" y="520"/><use href="#g9" xlink:href="#g9" x="340" y="520"/><use href="#g4" xlink:href="#g4" x="345" y="520"/><use href="#g8" xlink:href="#g8" x="350" y="520"/><use href="#g1" xlink:href="#g1" x="366" y="508"/><use href="#g4" xlink:href="#g4" x="371" y="508"/><use href="#g2" xlink:href="#g2" x="376" y="508"/><use href="#g0" xlink:href="#g0" x="381" y="508"/><use href="#g5" xlink:href="#g5" x="386" y="508"/><use href="#g7" xlink:href="#g7" x="391" y="508"/><use href="#g1" xlink:href="#g1" x="407" y="498"/><use href="#g4" xlink:href="#g4" x="412" y="498"/><use href="#g4" xlink:href="#g4" x="417" y="498"/><use href="#g0" xlink:href="#g0" x="422" y="498"/><use href="#g9" xlink:href="#g9" x="427" y="498"/><use href="#g0" xlink:href="#g0" x="432" y="498"/><use href="#g1" xlink:href="#g1" x="448" y="498"/><use href="#g4" xlink:href="#g4" x="453" y="498"/><use href="#g4" xlink:href="#g4" x="458" y="498"/><use href="#g0" xlink:href="#g0" x="463" y="498"/><use href="#g5" xlink:href="#g5" x="468" y="498"/><use href="#g3" xlink:href="#g3" x="473" y="498"/><use href="#g1" xlink:href="#g1" x="489" y="481"/><use href="#g4" xlink:href="#g4" x="494" y="481"/><use href="#g7" xlink:href="#g7" x="499" y="481"/><use href="#g5" xlink:href="#g5" x="504" y="481"/><use href="#g7" xlink:href="#g7" x="509" y="481"/><use href="#g2" xlink:href="#g2" x="514" y="481"/><use href="#g1" xlink:href="#g1" x="531" y="462"/><use href="#g5" xlink:href="#g5" x="536" y="462"/><use href="#g1" xlink:href="#g1" x="541" y="462"/><use href="#g6" xlink:href="#g6" x="546" y="462"/><use href="#g3" xlink:href="#g3" x="551" y="462"/><use href="#g0" xlink:href="#g0" x="556" y="462"/><use href="#g1" xlink:href="#g1" x="572" y="447"/><use href="#g5" xlink:href="#g5" x="577" y="447"/><use href="#g4" xlink:href="#g4" x="582" y="447"/><use href="#g9" xlink:href="#g9" x="587" y="447"/><use href="#g7" xlink:href="#g7" x="592" y="447"/><use href="#g1" xlink:href="#g1" x="597" y="447"/><use href="#g1" xlink:href="#g1" x="613" y="419"/><use href="#g6" xlink:href="#g6" x="618" y="419"/><use href="#g0" xlink:href="#g0" x="623" y="419"/><use href="#g5" xlink:href="#g5" x="628" y="419"/><use href="#g9" xlink:href="#g9" x="633" y="419"/><use href="#g6" xlink:href="#g6" x="638" y="419"/><use href="#g1" xlink:href="#g1" x="654" y="399"/><use href="#g6" xlink:href="#g6" x="659" y="399"/><use href="#g4" xlink:href="#g4" x="664" y="399"/><use href="#g8" xlink:href="#g8" x="669" y="399"/><use href="#g9" xlink:href="#g9" x="674" y="399"/><use href="#g2" xlink:href="#g2" x="679" y="399"/><use href="#g1" xlink:href="#g1" x="695" y="262"/><use href="#g9" xlink:href="#g9" x="700" y="262"/><use href="#g3" xlink:href="#g3" x="705" y="262"/><use href="#g7" xlink:href="#g7" x="710" y="262"/><use href="#g4" xlink:href="#g4" x="715" y="262"/><use href="#g2" xlink:href="#g2" x="720" y="262"/><use href="#g1" xlink:href="#g1" x="737" y="233"/><use href="#g9" xlink:href="#g9" x="742" y="233"/><use href="#g9" xlink:href="#g9" x="747" y="233"/><use href="#g9" xlink:href="#g9" x="752" y="233"/><use href="#g4" xlink:href="#g4" x="757" y="233"/><use href="#g1" xlink:href="#g1" x="762" y="233"/><use href="#g2" xlink:href="#g2" x="778" y="219"/><use href="#g0" xlink:href="#g0" x="783" y="219"/><use href="#g2" xlink:href="#g2" x="788" y="219"/><use href="#g7" xlink:href="#g7" x="793" y="219"/><use href="#g4" xlink:href="#g4" x="798" y="219"/><use href="#g0" xlink:href="#g0" x="803" y="219"/><use href="#g2" xlink:href="#g2" x="819" y="219"/><use href="#g0" xlink:href="#g0" x="824" y="219"/><use href="#g2" xlink:href="#g2" x="829" y="219"/><use href="#g7" xlink:href="#g7" x="834" y="219"/><use href="#g4" xlink:href="#g4" x="839" y="219"/><use href="#g0" xlink:href="#g0" x="844" y="219"/><use href="#g2" xlink:href="#g2" x="860" y="126"/><use href="#g2" xlink:href="#g2" x="865" y="126"/><use href="#g2" xlink:href="#g2" x="870" y="126"/><use href="#g4" xlink:href="#g4" x="875" y="126"/><use href="#g1" xlink:href="#g1" x="880" y="126"/><use href="#g1" xlink:href="#g1" x="885" y="126"/><use href="#g2" xlink:href="#g2" x="902" y="126"/><use href="#g2" xlink:href="#g2" x="907" y="126"/><use href="#g2" xlink:href="#g2" x="912" y="126"/><use href="#g4" xlink:href="#g4" x="917" y="126"/><use href="#g1" xlink:href="#g1" x="922" y="126"/><use href="#g1" xlink:href="#g1" x="927" y="126"/><use href="#g2" xlink:href="#g2" x="943" y="10"/><use href="#g4" xlink:href="#g4" x="948" y="10"/><use href="#g6" xlink:href="#g6" x="953" y="10"/><use href="#g8" xlink:href="#g8" x="958" y="10"/><use href="#g1" xlink:href="#g1" x="963" y="10"/><use href="#g1" xlink:href="#g1" x="968" y="10"/><use href="#g1" xlink:href="#g1" x="77" y="532"/><use href="#g3" xlink:href="#g3" x="82" y="532"/><use href="#g6" xlink:href="#g6" x="87" y="532"/><use href="#g6" xlink:href="#g6" x="92" y="532"/><use href="#g4" xlink:href="#g4" x="97" y="532"/><use href="#g1" xlink:href="#g1" x="102" y="532"/><use href="#g1" xlink:href="#g1" x="118" y="532"/><use href="#g3" xlink:href="#g3" x="123" y="532"/><use href="#g6" xlink:href="#g6" x="128" y="532"/><use href="#g6" xlink:href="#g6" x="133" y="532"/><use href="#g4" xlink:href="#g4" x="138" y="532"/><use href="#g1" xlink:href="#g1" x="143" y="532"/><use href="#g1" xlink:href="#g1" x="160" y="532"/><use href="#g3" xlink:href="#g3" x="165" y="532"/><use href="#g6" xlink:href="#g6" x="170" y="532"/><use href="#g6" xlink:href="#g6" x="175" y="532"/><use href="#g4" xlink:href="#g4" x="180" y="532"/><use href="#g1" xlink:href="#g1" x="185" y="532"/><use href="#g1" xlink:href="#g1" x="201" y="541"/><use href="#g3" xlink:href="#g3" x="206" y="541"/><use href="#g4" xlink:href="#g4" x="211" y="541"/><use href="#g9" xlink:href="#g9" x="216" y="541"/><use href="#g0" xlink:href="#g0" x="221" y="541"/><use href="#g1" xlink:href="#g1" x="226" y="541"/><use href="#g1" xlink:href="#g1" x="242" y="541"/><use href="#g3" xlink:href="#g3" x="247" y="541"/><use href="#g4" xlink:href="#g4" x="252" y="541"/><use href="#g3" xlink:href="#g3" x="257" y="541"/><use href="#g8" xlink:href="#g8" x="262" y="541"/><use href="#g4" xlink:href="#g4" x="267" y="541"/><use href="#g1" xlink:href="#g1" x="283" y="520"/><use href="#g3" xlink:href="#g3" x="288" y="520"/><use href="#g9" xlink:href="#g9" x="293" y="520"/><use href="#g4" xlink:href="#g4" x="298" y="520"/><use href="#g6" xlink:href="#g6" x="303" y="520"/><use href="#g9" xlink:href="#g9" x="308" y="520"/><use href="#g1" xlink:href="#g1" x="325" y="512"/><use href="#g4" xlink:href="#g4" x="330" y="512"/><use href="#g1" xlink:href="#g1" x="335" y="512"/><use href="#g1" xlink:href="#g1" x="340" y="512"/><use href="#g4" xlink:href="#g4" x="345" y="512"/><use href="#g3" xlink:href="#g3" x="350" y="512"/><use href="#g1" xlink:href="#g1" x="366" y="511"/><use href="#g4" xlink:href="#g4" x="371" y="511"/><use href="#g1" xlink:href="#g1" x="376" y="511"/><use href="#g2" xlink:href="#g2" x="381" y="511"/><use href="#g5" xlink:href="#g5" x="386" y="511"/><use href="#g7" xlink:href="#g7" x="391" y="511"/><use href="#g1" xlink:href="#g1" x="407" y="497"/><use href="#g4" xlink:href="#g4" x="412" y="497"/><use href="#g4" xlink:href="#g4" x="417" y="497"/><use href="#g1" xlink:href="#g1" x="422" y="497"/><use href="#g9" xlink:href="#g9" x="427" y="497"/><use href="#g0" xlink:href="#g0" x="432" y="497"/><use href="#g1" xlink:href="#g1" x="448" y="468"/><use href="#g5" xlink:href="#g5" x="453" y="468"/><use href="#g0" xlink:href="#g0" x="458" y="468"/><use href="#g3" xlink:href="#g3" x="463" y="468"/><use href="#g6" xlink:href="#g6" x="468" y="468"/><use href="#g8" xlink:href="#g8" x="473" y="468"/><use href="#g1" xlink:href="#g1" x="489" y="448"/><use href="#g5" xlink:href="#g5" x="494" y="448"/><use href="#g4" xlink:href="#g4" x="499" y="448"/><use href="#g0" xlink:href="#g0" x="504" y="448"/><use href="#g5" xlink:href="#g5" x="509" y="448"/><use href="#g5" xlink:href="#g5" x="514" y="448"/><use href="#g1" xlink:href="#g1" x="531" y="432"/><use href="#g5" xlink:href="#g5" x="536" y="432"/><use href="#g7" xlink:href="#g7" x="541" y="432"/><use href="#g0" xlink:href="#g0" x="546" y="432"/><use href="#g4" xlink:href="#g4" x="551" y="432"/><use href="#g6" xlink:href="#g6" x="556" y="432"/><use href="#g1" xlink:href="#g1" x="572" y="415"/><use href="#g6" xlink:href="#g6" x="577" y="415"/><use href="#g1" xlink:href="#g1" x="582" y="415"/><use href="#g5" xlink:href="#g5" x="587" y="415"/><use href="#g8" xlink:href="#g8" x="592" y="415"/><use href="#g8" xlink:href="#g8" x="597" y="415"/><use href="#g1" xlink:href="#g1" x="613" y="400"/><use href="#g6" xlink:href="#g6" x="618" y="400"/><use href="#g4" xlink:href="#g4" x="623" y="400"/><use href="#g9" xlink:href="#g9" x="628" y="400"/><use href="#g6" xlink:href="#g6" x="633" y="400"/><use href="#g6" xlink:href="#g6" x="638" y="400"/><use href="#g1" xlink:href="#g1" x="654" y="381"/><use href="#g6" xlink:href="#g6" x="659" y="381"/><use href="#g8" xlink:href="#g8" x="664" y="381"/><use href="#g6" xlink:href="#g6" x="669" y="381"/><use href="#g2" xlink:href="#g2" x="674" y="381"/><use href="#g4" xlink:href="#g4" x="679" y="381"/><use href="#g1" xlink:href="#g1" x="695" y="243"/><use href="#g9" xlink:href="#g9" x="700" y="243"/><use href="#g7" xlink:href="#g7" x="705" y="243"/><use href="#g7" xlink:href="#g7" x="710" y="243"/><use href="#g6" xlink:href="#g6" x="715" y="243"/><use href="#g1" xlink:href="#g1" x="720" y="243"/><use href="#g2" xlink:href="#g2" x="737" y="213"/><use href="#g0" xlink:href="#g0" x="742" y="213"/><use href="#g4" xlink:href="#g4" x="747" y="213"/><use href="#g1" xlink:href="#g1" x="752" y="213"/><use href="#g1" xlink:href="#g1" x="757" y="213"/><use href="#g5" xlink:href="#g5" x="762" y="213"/><use href="#g2" xlink:href="#g2" x="778" y="199"/><use href="#g0" xlink:href="#g0" x="783" y="199"/><use href="#g6" xlink:href="#g6" x="788" y="199"/><use href="#g9" xlink:href="#g9" x="793" y="199"/><use href="#g7" xlink:href="#g7" x="798" y="199"/><use href="#g1" xlink:href="#g1" x="803" y="199"/><use href="#g2" xlink:href="#g2" x="819" y="199"/><use href="#g0" xlink:href="#g0" x="824" y="199"/><use href="#g6" xlink:href="#g6" x="829" y="199"/><use href="#g9" xlink:href="#g9" x="834" y="199"/><use href="#g7" xlink:href="#g7" x="839" y="199"/><use href="#g1" xlink:href="#g1" x="844" y="199"/><use href="#g2" xlink:href="#g2" x="860" y="134"/><use href="#g2" xlink:href="#g2" x="865" y="134"/><use href="#g0" xlink:href="#g0" x="870" y="134"/><use href="#g6" xlink:href="#g6" x="875" y="134"/><use href="#g6" xlink:href="#g6" x="880" y="134"/><use href="#g2" xlink:href="#g2" x="885" y="134"/><use href="#g2" xlink:href="#g2" x="902" y="134"/><use href="#g2" xlink:href="#g2" x="907" y="134"/><use href="#g0" xlink:href="#g0" x="912" y="134"/><use href="#g6" xlink:href="#g6" x="917" y="134"/><use href="#g6" xlink:href="#g6" x="922" y="134"/><use href="#g2" xlink:href="#g2" x="927" y="134"/><use href="#g2" xlink:href="#g2" x="943" y="56"/><use href="#g3" xlink:href="#g3" x="948" y="56"/><use href="#g7" xlink:href="#g7" x="953" y="56"/><use href="#g1" xlink:href="#g1" x="958" y="56"/><use href="#g4" xlink:href="#g4" x="963" y="56"/><use href="#g0" xlink:href="#g0" x="968" y="56"/><use href="#g1" xlink:href="#g1" x="77" y="535"/><use href="#g3" xlink:href="#g3" x="82" y="535"/><use href="#g6" xlink:href="#g6" x="87" y="535"/><use href="#g2" xlink:href="#g2" x="92" y="535"/><use href="#g7" xlink:href="#g7" x="97" y="535"/><use href="#g0" xlink:href="#g0" x="102" y="535"/><use href="#g1" xlink:href="#g1" x="118" y="535"/><use href="#g3" xlink:href="#g3" x="123" y="535"/><use href="#g6" xlink:href="#g6" x="128" y="535"/><use href="#g2" xlink:href="#g2" x="133" y="535"/><use href="#g7" xlink:href="#g7" x="138" y="535"/><use href="#g0" xlink:href="#g0" x="143" y="535"/><use href="#g1" xlink:href="#g1" x="160" y="535"/><use href="#g3" xlink:href="#g3" x="165" y="535"/><use href="#g6" xlink:href="#g6" x="170" y="535"/><use href="#g2" xlink:href="#g2" x="175" y="535"/><use href="#g7" xlink:href="#g7" x="180" y="535"/><use href="#g0" xlink:href="#g0" x="185" y="535"/><use href="#g1" xlink:href="#g1" x="201" y="536"/><use href="#g3" xlink:href="#g3" x="206" y="536"/><use href="#g6" xlink:href="#g6" x="211" y="536"/><use href="#g0" xlink:href="#g0" x="216" y="536"/><use href="#g5" xlink:href="#g5" x="221" y="536"/><use href="#g3" xlink:href="#g3" x="226" y="536"/><use href="#g1" xlink:href="#g1" x="242" y="544"/><use href="#g3" xlink:href="#g3" x="247" y="544"/><use href="#g4" xlink:href="#g4" x="252" y="544"/><use href="#g3" xlink:href="#g3" x="257" y="544"/><use href="#g6" xlink:href="#g6" x="262" y="544"/><use href="#g6" xlink:href="#g6" x="267" y="544"/><use href="#g1" xlink:href="#g1" x="283" y="525"/><use href="#g3" xlink:href="#g3" x="288" y="525"/><use href="#g8" xlink:href="#g8" x="293" y="525"/><use href="#g6" xlink:href="#g6" x="298" y="525"/><use href="#g9" xlink:href="#g9" x="303" y="525"/><use href="#g4" xlink:href="#g4" x="308" y="525"/><use href="#g1" xlink:href="#g1" x="325" y="517"/><use href="#g4" xlink:href="#g4" x="330" y="517"/><use href="#g0" xlink:href="#g0" x="335" y="517"/><use href="#g6" xlink:href="#g6" x="340" y="517"/><use href="#g4" xlink:href="#g4" x="345" y="517"/><use href="#g8" xlink:href="#g8" x="350" y="517"/><use href="#g1" xlink:href="#g1" x="366" y="508"/><use href="#g4" xlink:href="#g4" x="371" y="508"/><use href="#g2" xlink:href="#g2" x="376" y="508"/><use href="#g1" xlink:href="#g1" x="381" y="508"/><use href="#g6" xlink:href="#g6" x="386" y="508"/><use href="#g3" xlink:href="#g3" x="391" y="508"/><use href="#g1" xlink:href="#g1" x="407" y="489"/><use href="#g4" xlink:href="#g4" x="412" y="489"/><use href="#g5" xlink:href="#g5" x="417" y="489"/><use href="#g5" xlink:href="#g5" x="422" y="489"/><use href="#g6" xlink:href="#g6" x="427" y="489"/><use href="#g3" xlink:href="#g3" x="432" y="489"/><use href="#g1" xlink:href="#g1" x="448" y="471"/><use href="#g4" xlink:href="#g4" x="453" y="471"/><use href="#g9" xlink:href="#g9" x="458" y="471"/><use href="#g7" xlink:href="#g7" x="463" y="471"/><use href="#g3" xlink:href="#g3" x="468" y="471"/><use href="#g7" xlink:href="#g7" x="473" y="471"/><use href="#g1" xlink:href="#g1" x="489" y="453"/><use href="#g5" xlink:href="#g5" x="494" y="453"/><use href="#g3" xlink:href="#g3" x="499" y="453"/><use href="#g5" xlink:href="#g5" x="504" y="453"/><use href="#g4" xlink:href="#g4" x="509" y="453"/><use href="#g0" xlink:href="#g0" x="514" y="453"/><use href="#g1" xlink:href="#g1" x="531" y="453"/><use href="#g5" xlink:href="#g5" x="536" y="453"/><use href="#g3" xlink:href="#g3" x="541" y="453"/><use href="#g5" xlink:href="#g5" x="546" y="453"/><use href="#g4" xlink:href="#g4" x="551" y="453"/><use href="#g0" xlink:href="#g0" x="556" y="453"/><use href="#g1" xlink:href="#g1" x="572" y="446"/><use href="#g5" xlink:href="#g5" x="577" y="446"/><use href="#g5" xlink:href="#g5" x="582" y="446"/><use href="#g4" xlink:href="#g4" x="587" y="446"/><use href="#g7" xlink:href="#g7" x="592" y="446"/><use href="#g6" xlink:href="#g6" x="597" y="446"/><use href="#g1" xlink:href="#g1" x="613" y="432"/><use href="#g5" xlink:href="#g5" x="618" y="432"/><use href="#g6" xlink:href="#g6" x="623" y="432"/><use href="#g1" xlink:href="#g1" x="628" y="432"/><use href="#g7" xlink:href="#g7" x="633" y="432"/><use href="#g7" xlink:href="#g7" x="638" y="432"/><use href="#g1" xlink:href="#g1" x="654" y="414"/><use href="#g6" xlink:href="#g6" x="659" y="414"/><use href="#g1" xlink:href="#g1" x="664" y="414"/><use href="#g6" xlink:href="#g6" x="669" y="414"/><use href="#g5" xlink:href="#g5" x="674" y="414"/><use href="#g7" xlink:href="#g7" x="679" y="414"/><use href="#g1" xlink:href="#g1" x="695" y="287"/><use href="#g8" xlink:href="#g8" x="700" y="287"/><use href="#g8" xlink:href="#g8" x="705" y="287"/><use href="#g5" xlink:href="#g5" x="710" y="287"/><use href="#g2" xlink:href="#g2" x="715" y="287"/><use href="#g3" xlink:href="#g3" x="720" y="287"/><use href="#g1" xlink:href="#g1" x="737" y="258"/><use href="#g9" xlink:href="#g9" x="742" y="258"/><use href="#g4" xlink:href="#g4" x="747" y="258"/><use href="#g5" xlink:href="#g5" x="752" y="258"/><use href="#g5" xlink:href="#g5" x="757" y="258"/><use href="#g6" xlink:href="#g6" x="762" y="258"/><use href="#g1" xlink:href="#g1" x="778" y="245"/><use href="#g9" xlink:href="#g9" x="783" y="245"/><use href="#g7" xlink:href="#g7" x="788" y="245"/><use href="#g2" xlink:href="#g2" x="793" y="245"/><use href="#g8" xlink:href="#g8" x="798" y="245"/><use href="#g0" xlink:href="#g0" x="803" y="245"/><use href="#g2" xlink:href="#g2" x="819" y="225"/><use href="#g0" xlink:href="#g0" x="824" y="225"/><use href="#g1" xlink:href="#g1" x="829" y="225"/><use href="#g6" xlink:href="#g6" x="834" y="225"/><use href="#g2" xlink:href="#g2" x="839" y="225"/><use href="#g0" xlink:href="#g0" x="844" y="225"/><use href="#g2" xlink:href="#g2" x="860" y="96"/><use href="#g2" xlink:href="#g2" x="865" y="96"/><use href="#g8" xlink:href="#g8" x="870" y="96"/><use href="#g7" xlink:href="#g7" x="875" y="96"/><use href="#g7" xlink:href="#g7" x="880" y="96"/><use href="#g3" xlink:href="#g3" x="885" y="96"/><use href="#g2" xlink:href="#g2" x="902" y="63"/><use href="#g3" xlink:href="#g3" x="907" y="63"/><use href="#g5" xlink:href="#g5" x="912" y="63"/><use href="#g6" xlink:href="#g6" x="917" y="63"/><use href="#g3" xlink:href="#g3" x="922" y="63"/><use href="#g6" xlink:href="#g6" x="927" y="63"/><use href="#g2" xlink:href="#g2" x="943" y="9"/><use href="#g4" xlink:href="#g4" x="948" y="9"/><use href="#g6" xlink:href="#g6" x="953" y="9"/><use href="#g9" xlink:href="#g9" x="958" y="9"/><use href="#g4" xlink:href="#g4" x="963" y="9"/><use href="#g7" xlink:href="#g7" x="968" y="9"/><use href="#g1" xlink:href="#g1" x="77" y="540"/><use href="#g3" xlink:href="#g3" x="82" y="540"/><use href="#g5" xlink:href="#g5" x="87" y="540"/><use href="#g2" xlink:href="#g2" x="92" y="540"/><use href="#g0" xlink:href="#g0" x="97" y="540"/><use href="#g9" xlink:href="#g9" x="102" y="540"/><use href="#g1" xlink:href="#g1" x="118" y="540"/><use href="#g3" xlink:href="#g3" x="123" y="540"/><use href="#g5" xlink:href="#g5" x="128" y="540"/><use href="#g2" xlink:href="#g2" x="133" y="540"/><use href="#g0" xlink:href="#g0" x="138" y="540"/><use href="#g9" xlink:href="#g9" x="143" y="540"/><use href="#g1" xlink:href="#g1" x="160" y="550"/><use href="#g3" xlink:href="#g3" x="165" y="550"/><use href="#g3" xlink:href="#g3" x="170" y="550"/><use href="#g0" xlink:href="#g0" x="175" y="550"/><use href="#g2" xlink:href="#g2" x="180" y="550"/><use href="#g6" xlink:href="#g6" x="185" y="550"/><use href="#g1" xlink:href="#g1" x="201" y="550"/><use href="#g3" xlink:href="#g3" x="206" y="550"/><use href="#g3" xlink:href="#g3" x="211" y="550"/><use href="#g0" xlink:href="#g0" x="216" y="550"/><use href="#g2" xlink:href="#g2" x="221" y="550"/><use href="#g6" xlink:href="#g6" x="226" y="550"/><use href="#g1" xlink:href="#g1" x="242" y="560"/><use href="#g3" xlink:href="#g3" x="247" y="560"/><use href="#g1" xlink:href="#g1" x="252" y="560"/><use href="#g0" xlink:href="#g0" x="257" y="560"/><use href="#g0" xlink:href="#g0" x="262" y="560"/><use href="#g1" xlink:href="#g1" x="267" y="560"/><use href="#g1" xlink:href="#g1" x="283" y="540"/><use href="#g3" xlink:href="#g3" x="288" y="540"/><use href="#g5" xlink:href="#g5" x="293" y="540"/><use href="#g2" xlink:href="#g2" x="298" y="540"/><use href="#g2" xlink:href="#g2" x="303" y="540"/><use href="#g6" xlink:href="#g6" x="308" y="540"/><use href="#g1" xlink:href="#g1" x="325" y="532"/><use href="#g3" xlink:href="#g3" x="330" y="532"/><use href="#g6" xlink:href="#g6" x="335" y="532"/><use href="#g8" xlink:href="#g8" x="340" y="532"/><use href="#g6" xlink:href="#g6" x="345" y="532"/><use href="#g9" xlink:href="#g9" x="350" y="532"/><use href="#g1" xlink:href="#g1" x="366" y="522"/><use href="#g3" xlink:href="#g3" x="371" y="522"/><use href="#g8" xlink:href="#g8" x="376" y="522"/><use href="#g9" xlink:href="#g9" x="381" y="522"/><use href="#g0" xlink:href="#g0" x="386" y="522"/><use href="#g1" xlink:href="#g1" x="391" y="522"/><use href="#g1" xlink:href="#g1" x="407" y="509"/><use href="#g4" xlink:href="#g4" x="412" y="509"/><use href="#g1" xlink:href="#g1" x="417" y="509"/><use href="#g7" xlink:href="#g7" x="422" y="509"/><use href="#g5" xlink:href="#g5" x="427" y="509"/><use href="#g0" xlink:href="#g0" x="432" y="509"/><use href="#g1" xlink:href="#g1" x="448" y="498"/><use href="#g4" xlink:href="#g4" x="453" y="498"/><use href="#g4" xlink:href="#g4" x="458" y="498"/><use href="#g0" xlink:href="#g0" x="463" y="498"/><use href="#g6" xlink:href="#g6" x="468" y="498"/><use href="#g3" xlink:href="#g3" x="473" y="498"/><use href="#g1" xlink:href="#g1" x="489" y="487"/><use href="#g4" xlink:href="#g4" x="494" y="487"/><use href="#g6" xlink:href="#g6" x="499" y="487"/><use href="#g3" xlink:href="#g3" x="504" y="487"/><use href="#g2" xlink:href="#g2" x="509" y="487"/><use href="#g5" xlink:href="#g5" x="514" y="487"/><use href="#g1" xlink:href="#g1" x="531" y="474"/><use href="#g4" xlink:href="#g4" x="536" y="474"/><use href="#g9" xlink:href="#g9" x="541" y="474"/><use href="#g1" xlink:href="#g1" x="546" y="474"/><use href="#g0" xlink:href="#g0" x="551" y="474"/><use href="#g5" xlink:href="#g5" x="556" y="474"/><use href="#g1" xlink:href="#g1" x="572" y="459"/><use href="#g5" xlink:href="#g5" x="577" y="459"/><use href="#g2" xlink:href="#g2" x="582" y="459"/><use href="#g2" xlink:href="#g2" x="587" y="459"/><use href="#g3" xlink:href="#g3" x="592" y="459"/><use href="#g6" xlink:href="#g6" x="597" y="459"/><use href="#g1" xlink:href="#g1" x="613" y="445"/><use href="#g5" xlink:href="#g5" x="618" y="445"/><use href="#g5" xlink:href="#g5" x="623" y="445"/><use href="#g2" xlink:href="#g2" x="628" y="445"/><use href="#g8" xlink:href="#g8" x="633" y="445"/><use href="#g1" xlink:href="#g1" x="638" y="445"/><use href="#g1" xlink:href="#g1" x="654" y="427"/><use href="#g5" xlink:href="#g5" x="659" y="427"/><use href="#g8" xlink:href="#g8" x="664" y="427"/><use href="#g9" xlink:href="#g9" x="669" y="427"/><use href="#g3" xlink:href="#g3" x="674" y="427"/><use href="#g0" xlink:href="#g0" x="679" y="427"/><use href="#g1" xlink:href="#g1" x="695" y="294"/><use href="#g8" xlink:href="#g8" x="700" y="294"/><use href="#g6" xlink:href="#g6" x="705" y="294"/><use href="#g9" xlink:href="#g9" x="710" y="294"/><use href="#g3" xlink:href="#g3" x="715" y="294"/><use href="#g6" xlink:href="#g6" x="720" y="294"/><use href="#g1" xlink:href="#g1" x="737" y="266"/><use href="#g9" xlink:href="#g9" x="742" y="266"/><use href="#g2" xlink:href="#g2" x="747" y="266"/><use href="#g9" xlink:href="#g9" x="752" y="266"/><use href="#g1" xlink:href="#g1" x="757" y="266"/><use href="#g8" xlink:href="#g8" x="762" y="266"/><use href="#g2" xlink:href="#g2" x="778" y="167"/><use href="#g1" xlink:href="#g1" x="783" y="167"/><use href="#g3" xlink:href="#g3" x="788" y="167"/><use href="#g6" xlink:href="#g6" x="793" y="167"/><use href="#g5" xlink:href="#g5" x="798" y="167"/><use href="#g3" xlink:href="#g3" x="803" y="167"/><use href="#g2" xlink:href="#g2" x="819" y="167"/><use href="#g1" xlink:href="#g1" x="824" y="167"/><use href="#g3" xlink:href="#g3" x="829" y="167"/><use href="#g6" xlink:href="#g6" x="834" y="167"/><use href="#g5" xlink:href="#g5" x="839" y="167"/><use href="#g3" xlink:href="#g3" x="844" y="167"/><use href="#g2" xlink:href="#g2" x="860" y="111"/><use href="#g2" xlink:href="#g2" x="865" y="111"/><use href="#g5" xlink:href="#g5" x="870" y="111"/><use href="#g5" xlink:href="#g5" x="875" y="111"/><use href="#g8" xlink:href="#g8" x="880" y="111"/><use href="#g4" xlink:href="#g4" x="885" y="111"/><use href="#g2" xlink:href="#g2" x="902" y="111"/><use href="#g2" xlink:href="#g2" x="907" y="111"/><use href="#g5" xlink:href="#g5" x="912" y="111"/><use href="#g5" xlink:href="#g5" x="917" y="111"/><use href="#g8" xlink:href="#g8" x="922" y="111"/><use href="#g4" xlink:href="#g4" x="927" y="111"/><use href="#g2" xlink:href="#g2" x="943" y="49"/><use href="#g3" xlink:href="#g3" x="948" y="49"/><use href="#g8" xlink:href="#g8" x="953" y="49"/><use href="#g5" xlink:href="#g5" x="958" y="49"/><use href="#g4" xlink:href="#g4" x="963" y="49"/><use href="#g6" xlink:href="#g6" x="968" y="49"/></g>
<path d="M147 594h13v2h-13zM151 593h5v5h-5zM153 592h1v7h-1z" fill="#ff0000"/><text x="163" y="598" font-family="Liberation Mono" font-weight="bold" font-size="9" letter-spacing="-0.4" fill="#000080">Bund</text><path d="M266 594h13v2h-13zM270 593h5v5h-5zM272 592h1v7h-1z" fill="#00ff00"/><text x="282" y="598" font-family="Liberation Mono" font-weight="bold" font-size="9" letter-spacing="-0.4" fill="#000080">Baden-Württemberg</text><path d="M385 594h13v2h-13zM389 593h5v5h-5zM391 592h1v7h-1z" fill="#0000ff"/><text x="401" y="598" font-family="Liberation Mono" font-weight="bold" font-size="9" letter-spacing="-0.4" fill="#000080">Bayern</text><path d="M504 594h13v2h-13zM508 593h5v5h-5zM510 592h1v7h-1z" fill="#808000"/><text x="520" y="598" font-family="Liberation Mono" font-weight="bold" font-size="9" letter-spacing="-0.4" fill="#000080">Hessen</text><path d="M623 594h13v2h-13zM627 593h5v5h-5zM629 592h1v7h-1z" fill="#ff00ff"/><text x="639" y="598" font-family="Liberation Mono" font-weight="bold" font-size="9" letter-spacing="-0.4" fill="#000080">Nordrhein-Westfalen</text><path d="M742 594h13v2h-13zM746 593h5v5h-5zM748 592h1v7h-1z" fill="#00ffff"/><text x="758" y="598" font-family="Liberation Mono" font-weight="bold" font-size="9" letter-spacing="-0.4" fill="#000080">Rheinland-Pfalz</text>
</svg></body></html>
